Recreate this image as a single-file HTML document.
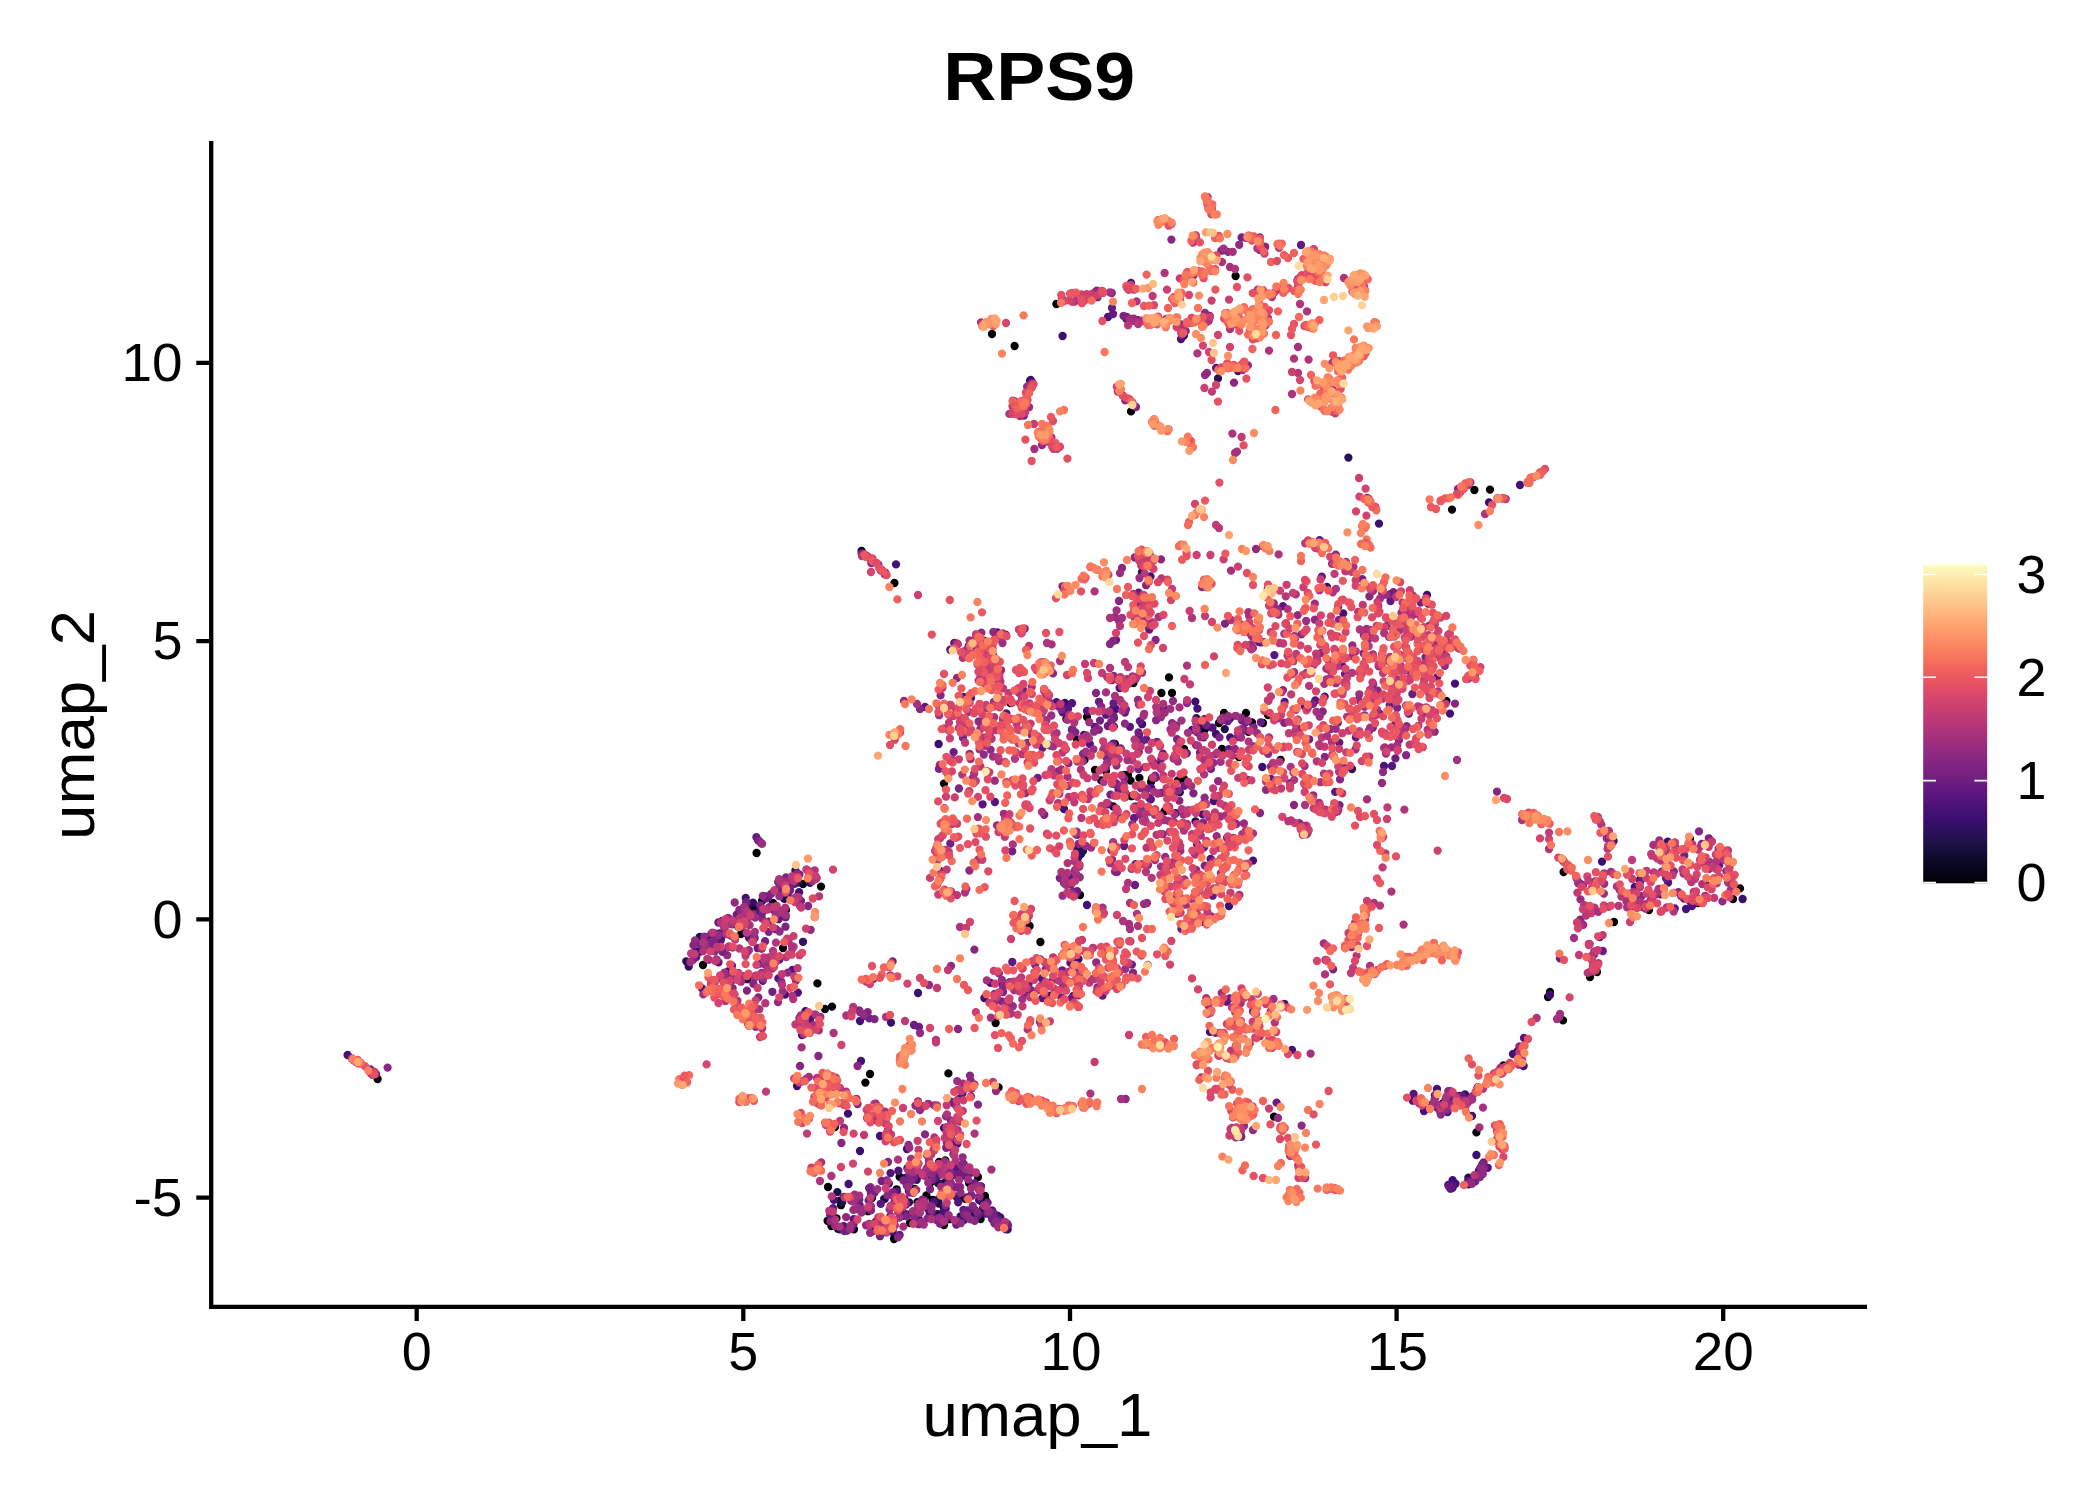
<!DOCTYPE html>
<html><head><meta charset="utf-8"><title>RPS9</title>
<style>
html,body{margin:0;padding:0;background:#fff;}
body{width:2100px;height:1500px;overflow:hidden;}
svg{display:block;}
text{font-family:"Liberation Sans",sans-serif;fill:#000;}
</style></head><body>
<svg width="2100" height="1500" viewBox="0 0 2100 1500">
<rect width="2100" height="1500" fill="#fff"/>
<defs><linearGradient id="mg" x1="0" y1="0" x2="0" y2="1"><stop offset="0.0000" stop-color="#fcfdbf"/><stop offset="0.0667" stop-color="#fddea0"/><stop offset="0.1333" stop-color="#febf84"/><stop offset="0.2000" stop-color="#fe9f6d"/><stop offset="0.2667" stop-color="#fa7f5e"/><stop offset="0.3333" stop-color="#f1605d"/><stop offset="0.4000" stop-color="#de4968"/><stop offset="0.4667" stop-color="#c43c75"/><stop offset="0.5333" stop-color="#a8327d"/><stop offset="0.6000" stop-color="#8c2981"/><stop offset="0.6667" stop-color="#721f81"/><stop offset="0.7333" stop-color="#57157e"/><stop offset="0.8000" stop-color="#3b0f70"/><stop offset="0.8667" stop-color="#20114b"/><stop offset="0.9333" stop-color="#0b0924"/><stop offset="1.0000" stop-color="#000004"/></linearGradient></defs>
<!-- title -->
<text x="1039.2" y="100" font-size="69" font-weight="bold" text-anchor="middle" textLength="192" lengthAdjust="spacingAndGlyphs">RPS9</text>
<!-- points -->
<g fill="none" stroke-linecap="round" stroke-width="8.3"><path stroke="#000004" d="M1204.3 730.4h0M871.1 1189.3h0M1563.0 1020.4h0M1518.0 1051.0h0M877.3 1222.5h0M1614.0 922.0h0M825.0 1009.0h0M887.0 1226.5h0M992.0 334.0h0M1172.0 693.0h0M998.6 1087.4h0M955.0 1174.0h0M1503.4 1065.4h0M902.4 1215.9h0M907.2 1214.6h0M1446.4 701.0h0M1690.0 839.0h0M995.6 1023.0h0M908.9 1190.9h0M949.7 1177.3h0M773.0 903.0h0M786.0 910.0h0M1151.0 782.0h0M868.0 1211.2h0M1733.0 899.0h0M1130.6 780.6h0M840.2 1228.0h0M1239.0 757.0h0M1010.4 703.0h0M1080.0 895.0h0M1469.4 1179.0h0M913.7 1179.1h0M870.0 1074.0h0M1040.4 942.0h0M914.6 1188.8h0M985.0 1196.0h0M944.0 1225.0h0M1442.0 1104.0h0M1248.4 731.8h0M1101.2 780.4h0M875.7 1221.9h0M1056.4 304.0h0M1178.1 780.3h0M756.6 853.0h0M1222.0 749.0h0M960.7 1197.9h0M1280.6 760.0h0M854.0 1229.3h0M835.0 1127.0h0M939.1 1161.9h0M894.4 583.0h0M1066.4 719.0h0M803.0 884.0h0M1185.0 752.0h0M945.3 1160.5h0M984.1 1209.6h0M783.0 948.0h0M978.0 1177.0h0M1581.0 884.4h0M1128.0 775.0h0M1246.0 713.0h0M1268.0 715.0h0M948.4 1073.4h0M965.0 1167.9h0M981.5 1201.2h0M1113.3 806.5h0M1449.0 1094.0h0M943.4 1223.7h0M1184.0 749.0h0M917.4 1202.1h0M1548.0 997.0h0M1133.4 683.0h0M831.4 1226.1h0M1452.0 509.6h0M1550.0 992.0h0M785.0 886.0h0M1095.0 770.0h0M1476.4 1132.4h0M1698.0 903.0h0M896.6 1189.3h0M1235.6 276.0h0M1563.6 872.0h0M1590.0 977.0h0M1131.3 796.2h0M1161.4 693.0h0M1173.2 793.5h0M1242.0 718.0h0M932.7 1199.8h0M701.0 944.0h0M703.0 965.0h0M944.0 783.6h0M965.4 1198.9h0M1640.0 880.0h0M1029.6 926.0h0M836.5 1218.3h0M1077.0 739.6h0M919.1 1175.0h0M974.0 1184.0h0M841.0 1205.2h0M832.0 1006.6h0M1106.0 771.0h0M1475.0 1176.0h0M753.0 908.0h0M828.0 1187.0h0M870.8 1197.1h0M1131.0 411.4h0M949.7 1219.2h0M872.0 1198.0h0M748.0 916.0h0M827.6 1220.8h0M762.0 901.0h0M931.1 1212.9h0M1169.0 677.4h0M741.0 934.0h0M1219.0 723.0h0M1490.0 489.6h0M926.4 1195.5h0M840.0 1200.7h0M1263.0 723.0h0M377.6 1079.0h0M1740.0 888.4h0M1124.0 775.0h0M910.0 1223.0h0M883.6 1224.1h0M969.0 1183.0h0M1164.6 811.2h0M949.3 1189.4h0M1274.0 1116.6h0M838.0 1228.7h0M817.4 983.4h0M1597.0 972.0h0M867.3 1209.4h0M1643.0 907.0h0M1114.9 744.0h0M1649.0 910.0h0M899.6 1176.8h0M894.5 1236.6h0M901.3 1203.1h0M910.4 1169.0h0M983.2 1208.1h0M985.6 1199.7h0M1014.6 346.0h0M1087.0 717.0h0M894.0 1239.0h0M1224.0 713.0h0M1139.4 777.9h0M1114.4 757.2h0M1474.4 490.0h0M1084.6 759.8h0M932.4 1179.1h0M980.6 1219.0h0M1252.0 722.4h0M821.0 886.6h0M865.4 1082.6h0M1151.9 778.6h0M930.3 1182.8h0M948.1 1187.3h0M1184.0 779.0h0"/><path stroke="#090720" d="M861.6 551.0h0"/><path stroke="#1e1149" d="M852.4 1228.3h0M888.8 1183.5h0M711.4 943.2h0M918.6 1218.7h0M837.4 1192.1h0M1468.4 1177.6h0M1195.5 821.4h0M747.1 951.9h0M1073.6 995.8h0M798.0 882.6h0M905.4 1177.8h0M895.0 1199.0h0M894.2 1220.8h0M699.7 936.9h0M884.8 1198.9h0M1030.1 380.7h0M747.3 979.2h0M1459.4 1096.0h0M773.3 906.3h0M870.8 1109.9h0M880.8 1226.1h0M986.2 673.7h0M1179.8 792.2h0M1142.0 572.2h0M943.7 1207.1h0M984.5 641.0h0M1175.7 813.2h0M937.4 1214.1h0M784.3 898.9h0M842.2 1202.2h0M738.2 926.6h0M870.9 1197.4h0M963.6 1164.0h0M943.8 1183.1h0M937.9 1183.1h0M973.0 1215.7h0M981.0 1213.7h0M1207.7 726.7h0M1224.8 729.1h0M1136.8 806.7h0M938.7 1199.0h0M938.7 1203.5h0M884.2 1198.8h0M1479.0 1171.3h0M1468.5 1184.3h0"/><path stroke="#271258" d="M1348.4 457.6h0M857.0 1200.9h0M1196.4 718.2h0M721.2 937.8h0M990.3 1214.7h0M1081.0 854.0h0M1183.9 335.5h0M732.7 947.4h0M765.2 896.5h0M1480.1 1175.3h0M964.2 1219.7h0M1218.0 378.4h0M928.6 1173.8h0M1204.4 719.2h0M1240.5 1132.0h0M1408.7 713.6h0M916.5 1172.8h0M909.0 1202.3h0M686.3 961.3h0M708.3 937.2h0M926.9 1207.9h0M1083.0 851.0h0M1435.5 1096.8h0M844.1 1196.8h0"/><path stroke="#311165" d="M1199.5 725.7h0M1352.0 769.0h0M688.7 966.5h0M951.7 1134.1h0M1007.7 1229.4h0M1078.0 858.0h0M810.0 882.8h0M910.4 1170.3h0M761.0 843.0h0M700.4 951.5h0M753.0 902.7h0M745.3 932.8h0M839.6 1229.3h0M1156.8 764.7h0M732.1 924.3h0M928.9 1165.7h0M803.0 941.8h0M953.5 1154.4h0M960.6 1216.3h0M1077.0 849.0h0M866.3 555.7h0M1049.7 995.7h0M1000.3 1217.4h0M795.4 870.5h0M805.5 1011.1h0M1465.0 1094.4h0M786.9 886.1h0M1113.0 708.8h0M1065.2 875.5h0"/><path stroke="#3b0f70" d="M1047.9 999.1h0M958.7 1099.2h0M1451.9 1093.7h0M1142.1 724.2h0M1262.3 767.0h0M721.9 921.2h0M907.4 1168.3h0M1195.3 701.6h0M990.3 677.4h0M1452.6 1180.2h0M1691.3 881.3h0M929.7 1213.0h0M892.7 1231.2h0M1427.0 595.0h0M1602.0 861.6h0M1707.0 864.4h0M797.0 1086.0h0M1667.7 841.6h0M979.1 1200.1h0M1742.6 899.0h0M1126.4 318.9h0M1229.0 906.0h0M1238.0 371.0h0M1216.0 734.0h0M1379.0 523.6h0M1078.5 959.0h0M1476.4 1155.0h0M891.0 1022.6h0M1613.6 841.0h0M923.7 1106.3h0M1150.5 576.5h0M1550.0 995.0h0M1636.0 899.0h0M1062.6 336.0h0M1084.0 735.0h0M1071.9 729.7h0M984.4 998.0h0M695.8 951.5h0M802.0 1035.0h0M813.0 1015.0h0M1479.0 1170.8h0M870.1 1208.6h0M1065.0 703.0h0M860.0 1151.0h0M1705.0 883.6h0M1229.9 718.6h0M1031.9 381.9h0M750.8 915.9h0M951.6 1193.1h0M1261.0 642.4h0M779.0 888.4h0M1327.0 587.0h0M1489.0 502.4h0M1030.7 379.9h0M918.0 993.0h0M938.6 744.0h0M916.7 1179.8h0M848.0 1113.6h0M918.4 1163.6h0"/><path stroke="#451077" d="M1005.9 1229.2h0M1324.7 696.6h0M1115.7 709.0h0M957.3 1143.7h0M728.0 971.5h0M1452.6 1187.8h0M990.6 982.9h0M1181.0 339.0h0M1213.8 801.0h0M745.7 897.9h0M1472.0 1116.0h0M971.0 697.9h0M717.0 961.2h0M758.1 840.3h0M1432.0 1104.5h0M1523.6 1066.0h0M1064.0 809.0h0M896.0 564.4h0M1192.1 729.9h0M1628.8 899.8h0M1255.0 1013.0h0M799.1 892.2h0M848.6 1184.0h0M1342.1 650.7h0M1434.9 1095.3h0M1292.0 1050.0h0M1455.5 1183.7h0M1230.2 737.5h0M1202.7 814.4h0M997.4 632.4h0M833.9 1199.9h0M1228.0 1024.0h0M1513.0 1054.0h0M1210.0 1031.9h0M785.1 994.6h0M859.6 1205.2h0M880.0 1136.0h0M944.0 1128.0h0M1424.0 1111.0h0M1076.8 834.7h0M779.0 910.9h0M1599.8 937.1h0M1006.0 635.0h0M952.7 1172.1h0M1437.0 1089.0h0M1686.0 909.0h0M1450.0 713.6h0M1448.3 1185.0h0M964.5 651.3h0M965.4 1086.9h0M945.7 1208.5h0M1634.8 886.9h0M1455.0 683.6h0M1253.0 860.6h0M956.0 1103.0h0M997.6 1215.6h0M1304.6 706.1h0M1343.2 613.4h0M1073.9 878.3h0M1009.3 982.7h0M907.0 1149.0h0M860.0 1021.0h0M1087.0 905.0h0M1520.0 485.0h0M872.2 1231.2h0M943.0 1212.2h0M715.5 941.0h0M956.5 1196.9h0M1131.0 283.0h0M1119.6 688.0h0M1197.4 708.6h0M1469.4 1180.8h0M1197.0 844.0h0M1106.1 756.6h0M347.6 1055.0h0M861.0 1061.0h0"/><path stroke="#4f127b" d="M1394.3 636.3h0M1070.9 960.6h0M1585.2 906.0h0M1690.2 901.6h0M1139.0 734.9h0M1342.1 665.6h0M1056.5 702.1h0M1151.2 788.0h0M1692.0 906.0h0M810.1 1020.8h0M1450.6 1188.7h0M1192.0 909.2h0M890.5 1173.1h0M963.7 696.9h0M1172.2 793.0h0M950.6 1144.4h0M993.3 1214.9h0M1215.2 818.1h0M912.1 1175.7h0M944.9 1210.8h0M1062.6 712.3h0M1203.7 737.3h0M1018.6 688.3h0M955.5 1167.0h0M981.0 1186.3h0M759.1 911.6h0M1251.7 749.7h0M703.9 939.1h0M1384.0 766.0h0M1007.0 1223.6h0M1394.6 725.1h0M995.2 1218.3h0M1447.5 1112.0h0M702.1 988.4h0M968.9 645.8h0M1042.9 662.5h0M1412.8 1100.7h0M719.3 933.5h0M950.3 649.7h0M1002.4 1225.8h0M1076.8 892.9h0M1387.7 660.6h0M797.9 992.6h0M1089.8 744.1h0M1108.0 317.0h0M1072.0 703.2h0M1206.0 759.6h0M785.4 915.4h0M958.2 1202.3h0M1223.5 718.5h0M851.0 1228.2h0M1284.4 1003.8h0M778.4 978.4h0M1668.1 882.5h0M792.5 969.9h0M1002.0 983.8h0M762.1 910.2h0M815.1 877.1h0M1150.8 799.4h0M1212.5 727.7h0M1479.0 1175.4h0M1128.1 683.5h0M793.3 878.8h0M746.9 903.2h0M933.6 1202.2h0M1139.0 322.6h0M936.3 1172.2h0M843.7 1226.1h0M1163.8 707.4h0M898.4 1170.7h0M1210.6 859.0h0M1487.7 1167.8h0M1108.4 804.3h0"/><path stroke="#59157e" d="M986.9 671.0h0M1392.0 766.0h0M1594.3 954.1h0M858.9 1205.2h0M929.6 1209.0h0M993.6 1213.5h0M1684.0 898.5h0M1524.0 1038.0h0M853.6 1219.1h0M1315.3 700.5h0M880.7 1203.8h0M1284.6 702.0h0M792.8 899.5h0M706.6 947.2h0M947.4 1133.9h0M718.5 962.3h0M1578.1 922.6h0M1674.8 908.4h0M1070.4 962.8h0M1042.4 998.1h0M1450.9 1091.5h0M955.2 1169.4h0M759.0 963.9h0M1452.2 1186.1h0M1731.3 883.9h0M1660.5 894.3h0M1335.2 791.9h0M994.9 802.0h0M1259.8 249.9h0M788.1 892.7h0M1447.1 644.8h0M1087.0 711.0h0M982.6 804.3h0M1665.4 874.4h0M1274.4 655.1h0M962.5 1093.3h0M879.7 1228.6h0M897.1 1191.4h0M1202.8 921.7h0M1382.2 592.5h0M1437.1 677.1h0M749.0 937.7h0M1226.7 1001.7h0M779.4 959.6h0M1468.2 1180.8h0M884.9 1120.2h0M963.3 1169.3h0M985.8 1213.6h0M1113.9 726.6h0M1068.0 709.0h0M1450.6 1186.7h0M1186.7 753.3h0M1106.1 714.7h0M951.3 1139.9h0M1137.9 320.1h0M1094.9 727.0h0M1442.8 1110.6h0M1452.3 1104.5h0M1129.9 726.8h0M925.0 707.0h0M1006.4 713.5h0M1041.7 978.3h0M1283.0 606.2h0M1176.9 896.0h0M1209.6 316.0h0M1283.6 747.1h0M1413.6 1094.0h0M720.7 940.5h0M1259.0 642.0h0M1651.0 900.0h0M936.8 1177.6h0M1379.7 713.9h0M992.1 1210.5h0M1227.1 837.8h0M856.6 1209.0h0M971.2 1195.2h0M954.3 643.0h0M769.7 961.2h0"/><path stroke="#621980" d="M963.4 1210.0h0M1118.5 789.5h0M1228.8 749.2h0M1149.1 797.9h0M945.8 1175.1h0M1042.4 747.7h0M1186.1 277.8h0M906.1 1204.5h0M1134.1 818.0h0M1149.2 629.5h0M1113.0 314.0h0M915.8 1165.7h0M1120.4 748.3h0M1260.8 722.3h0M992.6 1216.5h0M1146.3 739.4h0M833.1 1208.1h0M1064.9 883.5h0M872.7 1120.2h0M778.5 919.2h0M995.6 679.1h0M932.9 1216.7h0M946.2 1163.3h0M1321.8 576.7h0M1270.7 778.8h0M1138.6 592.7h0M1319.7 540.1h0M1145.3 767.1h0M1212.7 895.7h0M904.5 1198.8h0M1587.4 908.9h0M718.4 922.5h0M1139.9 721.1h0M762.7 980.8h0M1337.8 722.6h0M890.5 1215.9h0M1301.0 245.0h0M830.2 1214.9h0M939.9 870.8h0M765.4 898.6h0M1406.2 705.7h0M1134.7 806.7h0M696.2 957.0h0M1355.9 737.4h0M1124.9 712.5h0M1112.0 308.0h0M1452.2 1101.3h0M1071.4 877.0h0M1174.5 756.9h0M966.8 653.3h0M1216.1 367.9h0M847.0 1230.5h0M904.4 1213.5h0M966.7 1197.3h0M924.3 1200.5h0M775.9 929.2h0M1465.0 1099.6h0M1253.0 1011.4h0M1471.8 1183.7h0M1462.5 1096.0h0M729.5 919.1h0M956.0 1221.0h0M1012.3 962.0h0M974.7 1209.6h0M989.3 679.7h0M884.3 1221.0h0M1243.7 720.5h0M1243.2 729.6h0M899.6 1235.0h0M1103.0 292.5h0M763.6 909.7h0M756.4 837.2h0M1449.9 1187.7h0M935.7 1106.0h0M782.1 911.5h0M1114.8 784.1h0M998.5 1219.9h0M1448.8 1186.3h0M1168.9 865.3h0M1162.9 753.6h0M794.5 883.9h0M1124.1 846.0h0M939.2 1172.8h0M1339.3 742.6h0M785.6 917.2h0M1480.5 1167.8h0M1031.4 996.8h0M992.1 1219.1h0M1666.4 851.8h0M1043.9 665.0h0M1390.5 601.0h0M371.8 1071.2h0M1063.3 986.0h0M1474.9 676.0h0M1135.5 864.2h0M1719.2 865.2h0M1102.5 995.6h0M1113.6 703.2h0"/><path stroke="#6b1d81" d="M1732.5 885.9h0M1073.7 891.8h0M1028.7 983.6h0M864.2 1015.9h0M985.1 651.5h0M953.6 752.1h0M1009.5 1005.7h0M1240.7 1135.6h0M1602.8 951.0h0M736.7 914.6h0M914.0 1025.0h0M1267.8 589.3h0M1210.9 768.9h0M978.0 1214.8h0M958.1 1174.3h0M1113.1 743.6h0M970.7 1172.9h0M1040.2 959.4h0M757.7 948.2h0M714.4 948.3h0M974.7 1183.2h0M1459.5 1101.2h0M1408.3 670.3h0M1227.7 721.2h0M1097.5 297.2h0M1009.3 1003.8h0M1111.9 679.7h0M1245.0 730.6h0M1138.6 606.9h0M956.3 1224.5h0M1010.0 982.3h0M1369.0 730.8h0M1729.4 879.1h0M1433.6 1104.7h0M1390.8 594.0h0M714.6 933.5h0M999.4 1221.0h0M1005.6 1223.2h0M1398.8 731.7h0M745.7 912.8h0M1241.9 720.3h0M767.9 898.1h0M376.0 1074.0h0M732.0 965.7h0M1038.9 737.9h0M870.9 1193.2h0M780.6 890.7h0M1447.4 1099.0h0M790.8 881.1h0M1077.2 891.2h0M745.0 911.1h0M975.6 646.9h0M1204.0 847.4h0M1142.4 740.9h0M919.0 1027.0h0M1099.0 701.8h0M1480.9 1171.7h0M1138.7 752.1h0M1276.6 1102.6h0M946.5 1218.0h0M1560.0 958.4h0M738.5 973.2h0M963.9 1175.8h0M1229.9 998.3h0M1135.0 885.0h0M1062.2 970.3h0M1023.9 415.5h0M1037.7 777.9h0M1412.4 694.0h0M1395.4 758.4h0M1666.0 878.3h0M1181.4 928.8h0M1151.3 557.4h0M1176.2 725.7h0M1640.3 881.3h0M1114.0 718.1h0M967.5 1210.4h0"/><path stroke="#752181" d="M800.4 1016.9h0M1131.9 964.6h0M1098.8 729.7h0M754.7 938.0h0M913.8 1178.3h0M871.7 560.0h0M1237.4 737.1h0M1200.0 752.8h0M844.4 1231.1h0M1111.6 680.2h0M1193.3 241.2h0M790.2 890.2h0M987.6 1202.7h0M1423.6 1105.1h0M892.6 961.4h0M880.0 1236.2h0M801.0 900.9h0M1475.3 1181.3h0M1116.0 640.0h0M741.3 919.7h0M735.7 920.6h0M1153.6 559.8h0M1430.8 666.2h0M1024.7 993.2h0M954.1 1103.6h0M1440.4 1112.2h0M1023.3 690.0h0M1138.4 769.0h0M773.4 909.7h0M755.8 1026.7h0M1163.1 778.5h0M1701.8 844.0h0M1005.9 724.7h0M954.3 1175.3h0M1106.0 754.4h0M1008.0 1225.4h0M1277.9 289.0h0M1100.0 720.6h0M1398.9 740.1h0M992.1 643.5h0M886.8 1180.4h0M1042.5 704.5h0M1241.6 237.5h0M1105.8 767.8h0M1367.1 497.9h0M884.4 1221.2h0M1061.3 997.4h0M765.1 941.2h0M950.3 843.5h0M1334.7 812.2h0M1197.5 732.6h0M1125.9 709.5h0M768.9 921.6h0M1113.5 716.0h0M1339.5 805.1h0M869.2 1018.3h0M1338.1 606.9h0M772.4 991.8h0"/><path stroke="#7e2482" d="M1259.8 237.4h0M946.8 1142.7h0M1342.5 691.4h0M799.4 874.5h0M906.8 1216.4h0M1107.0 757.8h0M991.1 659.0h0M1025.4 793.1h0M1372.8 727.7h0M1290.1 783.2h0M786.0 877.5h0M1058.3 771.5h0M714.6 940.0h0M1072.5 729.3h0M1428.3 603.9h0M1390.6 594.6h0M1480.0 1177.1h0M971.9 1195.9h0M770.0 963.1h0M758.3 997.4h0M1075.4 732.4h0M370.7 1073.1h0M892.9 1192.2h0M1161.3 792.9h0M771.2 893.8h0M813.1 872.8h0M1127.5 682.1h0M1335.0 650.5h0M1177.1 739.2h0M861.6 553.5h0M1193.4 793.3h0M995.2 682.2h0M994.4 1223.3h0M1482.8 1174.1h0M979.0 641.6h0M1091.1 296.4h0M946.2 1147.8h0M1035.2 964.9h0M1157.0 741.8h0M731.0 935.5h0M1228.1 716.8h0M1696.5 897.3h0M932.4 1179.9h0M1078.4 995.4h0M1140.0 814.8h0M955.8 1187.2h0M874.5 1019.1h0M1137.6 604.6h0M1219.5 737.4h0M1695.9 900.1h0M1062.5 586.3h0"/><path stroke="#882781" d="M1265.0 247.0h0M910.8 1181.4h0M1437.2 1106.5h0M1325.5 960.0h0M998.0 638.1h0M1207.9 827.6h0M1390.6 658.5h0M922.2 1199.7h0M1402.6 669.4h0M800.0 1066.0h0M909.6 1192.5h0M914.3 1216.9h0M1161.0 559.4h0M1137.1 612.6h0M1580.2 921.6h0M1661.6 871.7h0M977.3 1211.9h0M1188.9 810.5h0M1434.6 731.7h0M1332.6 389.8h0M1152.8 761.5h0M1097.2 728.8h0M863.6 554.0h0M1203.1 822.6h0M1172.1 723.2h0M1369.4 596.4h0M1363.9 635.3h0M1213.0 861.4h0M1445.4 1099.8h0M945.5 1205.1h0M1678.4 892.1h0M1096.8 290.6h0M761.9 918.2h0M807.4 870.1h0M940.6 695.4h0M759.4 841.1h0M1145.8 794.7h0M870.9 1206.1h0M1155.6 640.0h0M818.4 1056.0h0M1124.2 778.6h0M1111.8 293.0h0M1322.7 711.5h0M909.3 1174.9h0M1097.4 987.5h0M1179.3 800.7h0M1148.8 579.1h0M1116.2 783.1h0M1373.2 684.3h0M1332.1 563.7h0M900.2 1200.5h0M1699.0 831.4h0M1101.2 706.7h0M939.9 879.3h0M1083.0 754.0h0M781.3 981.8h0M1283.0 690.1h0M1377.8 690.7h0M732.6 988.3h0M974.7 1220.9h0M1673.8 871.4h0M1053.0 673.4h0M711.4 941.8h0M740.5 925.8h0M1420.2 671.2h0M987.7 1212.8h0M1657.9 891.6h0M1004.5 1222.3h0M1263.8 642.2h0M796.0 980.5h0M1580.2 919.7h0M731.4 981.0h0M1277.1 609.3h0M925.0 1134.4h0M1451.2 1103.9h0M1135.0 618.6h0M1136.0 407.0h0M1409.8 630.5h0M920.0 709.0h0M1052.3 980.9h0M1716.2 854.7h0M1143.4 807.5h0M748.5 917.5h0M888.0 1162.0h0M1482.6 1169.1h0M1155.1 775.6h0M928.9 1164.6h0M1146.3 625.2h0M1284.3 722.9h0M810.7 877.2h0M1146.1 585.2h0M1125.2 400.4h0M1113.0 641.0h0M1111.2 721.6h0M752.9 913.8h0M808.1 906.0h0"/><path stroke="#912b81" d="M1333.8 756.5h0M761.7 973.0h0M969.6 753.8h0M1116.5 765.5h0M940.9 853.0h0M1152.8 762.3h0M352.9 1059.8h0M1299.3 823.1h0M1177.2 913.7h0M875.4 1224.9h0M1246.1 237.9h0M992.4 654.5h0M1401.5 612.7h0M1141.7 595.5h0M1256.0 549.0h0M1436.3 635.7h0M1278.1 609.6h0M1202.0 587.0h0M762.8 895.9h0M1031.5 383.3h0M718.6 935.0h0M1115.0 871.6h0M1482.1 1173.6h0M1301.6 1125.6h0M1244.0 1126.0h0M846.1 1217.1h0M1204.6 797.6h0M774.9 890.4h0M990.6 749.8h0M951.0 966.0h0M787.7 972.6h0M962.6 1157.3h0M778.1 882.0h0M904.0 701.0h0M931.6 1210.4h0M983.8 754.6h0M1063.8 953.1h0M1301.5 634.3h0M1131.0 319.0h0M946.0 1116.4h0M990.9 684.9h0M753.8 937.8h0M1253.0 1130.0h0M931.7 1174.4h0M1082.9 761.3h0M920.0 1033.0h0M1027.4 742.8h0M908.5 1144.9h0M1386.8 626.0h0M1065.4 880.4h0M1196.1 722.9h0M1124.9 723.6h0M778.0 1002.1h0M870.1 1232.8h0M1234.9 749.0h0M727.2 955.2h0M1019.8 413.5h0M1234.2 1021.8h0M1683.0 849.5h0M994.5 993.9h0M810.6 929.8h0M1218.1 781.1h0M1722.4 901.4h0M1241.0 717.7h0M1082.8 738.1h0M1196.0 745.1h0M915.4 1105.6h0M1195.8 235.4h0M964.2 1168.0h0M980.4 729.0h0M1346.4 566.7h0M1519.4 1046.4h0M754.9 977.6h0M950.0 705.0h0M1317.0 548.4h0M1297.7 615.1h0M1706.7 864.9h0M771.1 907.1h0M996.0 1091.0h0M1173.0 701.0h0M1228.1 251.9h0M1266.0 789.8h0M887.5 1195.2h0M960.5 1192.8h0M1134.7 557.5h0M1058.2 706.2h0M1606.7 838.3h0M1578.7 882.5h0M1178.4 790.5h0M1252.9 648.0h0M1082.8 300.3h0M1447.8 1107.0h0M960.8 1223.2h0M1429.1 709.7h0M866.1 1225.3h0M1330.4 729.2h0M978.6 721.5h0M856.4 1098.8h0M1314.9 619.7h0M1383.0 772.0h0M1444.8 665.9h0M1594.3 951.4h0"/><path stroke="#9b2e7f" d="M1209.3 817.5h0M703.6 946.5h0M1419.3 1103.4h0M1017.1 918.8h0M1139.5 578.0h0M944.9 849.8h0M1456.1 1096.0h0M1051.3 715.5h0M1352.6 656.0h0M869.2 1223.8h0M850.0 1229.1h0M786.3 881.5h0M886.7 1232.3h0M1002.5 643.0h0M993.1 655.3h0M1239.5 647.3h0M1660.7 860.4h0M1241.5 729.1h0M1446.9 641.8h0M748.9 950.2h0M1246.3 764.3h0M993.9 701.9h0M1683.6 873.6h0M1038.5 432.6h0M779.4 896.2h0M806.2 1079.0h0M723.8 926.6h0M1132.5 676.5h0M1067.7 786.0h0M1205.0 375.0h0M801.2 1015.3h0M1353.5 650.9h0M939.8 764.9h0M861.5 1212.5h0M1243.9 823.4h0M951.2 1131.5h0M1397.6 750.6h0M932.3 1166.2h0M1726.2 871.1h0M1442.6 1108.5h0M728.2 946.9h0M1076.7 831.7h0M1458.7 1102.0h0M1233.5 838.0h0M925.8 1205.2h0M994.8 780.7h0M1468.1 676.5h0M725.8 992.2h0M870.5 1187.1h0M695.0 940.5h0M1693.7 899.7h0M997.0 825.4h0M928.2 1103.8h0M1112.0 859.5h0M909.3 1147.7h0M880.4 1227.2h0M1719.8 848.0h0M989.9 677.6h0M918.0 1101.3h0M968.1 1179.6h0M1201.1 320.1h0M1211.4 916.5h0M1688.7 844.9h0M980.5 668.7h0M1235.6 715.8h0M1502.1 1073.3h0M972.5 778.2h0M1091.1 847.6h0M1003.9 813.8h0M924.4 1175.8h0M748.6 1012.3h0M1335.7 728.9h0M873.6 1193.0h0M1015.8 826.5h0M918.8 1203.5h0M1373.0 590.9h0M1170.5 729.4h0M812.4 881.1h0M944.8 1161.5h0M1500.0 1145.0h0M1165.2 856.9h0M1180.4 850.8h0M952.8 715.8h0M1451.8 1092.9h0M1314.8 603.6h0M1100.3 988.7h0M707.0 944.4h0M1027.1 386.7h0M1191.4 322.3h0M961.1 1164.9h0M762.1 843.8h0M1407.3 631.2h0M1359.3 694.3h0M740.5 919.0h0M872.5 562.0h0"/><path stroke="#a5317e" d="M1325.0 809.7h0M1464.4 485.1h0M1230.0 267.0h0M1191.3 786.1h0M966.1 726.5h0M1112.2 783.9h0M754.8 932.0h0M1451.7 1092.6h0M1459.0 1105.3h0M763.4 978.3h0M1031.7 686.9h0M1467.8 485.1h0M963.0 1083.7h0M1182.2 333.7h0M821.2 1162.4h0M737.4 1000.8h0M903.3 1226.6h0M990.9 1017.7h0M1403.0 614.2h0M1685.6 872.0h0M1716.3 869.0h0M1366.6 629.0h0M1319.5 590.2h0M1005.1 818.4h0M1034.1 1101.1h0M1166.1 319.0h0M1470.9 1183.3h0M939.1 715.2h0M1655.9 894.5h0M1236.6 1023.8h0M1220.2 915.9h0M1304.6 766.0h0M1633.1 897.7h0M1188.0 732.8h0M880.8 570.5h0M1519.0 1064.7h0M923.8 1224.6h0M1353.4 566.9h0M1293.5 772.6h0"/><path stroke="#6b1d81" d="M966.9 1217.5h0M1124.9 797.3h0M1071.8 998.0h0M1085.6 295.4h0M1107.8 726.0h0M1389.7 705.1h0M1344.9 674.1h0"/><path stroke="#752181" d="M1206.3 725.0h0M1015.0 987.3h0M1196.5 730.7h0M1065.2 972.8h0M950.8 1101.7h0M1138.5 732.5h0M1309.2 739.3h0M853.5 1224.2h0M1684.3 855.5h0M1342.2 765.9h0M1245.5 722.6h0M1161.3 758.9h0M868.6 1200.4h0M1012.2 851.3h0M1437.0 1107.5h0M869.1 1188.3h0M1075.6 967.9h0M1477.9 1087.1h0M1362.3 579.2h0M762.3 912.8h0M1203.4 324.5h0M1483.6 1162.5h0M1425.5 657.1h0M1174.4 786.8h0M992.0 1216.1h0M711.4 933.6h0M859.3 1199.4h0M906.8 1185.6h0M874.4 1192.7h0M873.3 978.9h0M1223.9 367.9h0M1115.2 751.1h0M993.4 1213.5h0M745.1 917.3h0M1110.4 794.6h0M880.3 1232.8h0M1029.0 392.6h0M1155.5 777.8h0M1443.8 654.1h0M1363.7 653.3h0M1120.5 817.7h0M1448.3 1091.2h0M1126.7 317.0h0M1420.6 602.6h0M987.3 675.4h0M1160.3 814.8h0M1134.6 795.0h0M1222.6 250.4h0M881.6 1181.0h0M722.5 951.9h0M1146.6 605.3h0M1184.4 785.8h0M700.1 944.4h0M1595.2 881.5h0M1071.1 884.6h0M746.1 902.4h0M1590.1 957.8h0M1393.4 592.1h0M1337.7 811.2h0"/><path stroke="#7e2482" d="M1473.9 669.9h0M986.2 726.0h0M693.3 959.6h0M753.4 983.9h0M1221.3 250.6h0M1480.5 1168.3h0M1061.5 709.7h0M963.0 737.9h0M971.0 1096.5h0M1259.7 1036.2h0M971.5 1088.5h0M1563.2 861.2h0M1161.1 709.1h0M785.5 926.7h0M1519.6 1060.6h0M939.8 1223.5h0M859.2 1010.4h0M1162.7 834.2h0M1338.9 619.9h0M1482.3 1164.1h0M1626.1 895.3h0M713.1 943.1h0M1062.9 998.7h0M857.5 1104.0h0M958.9 788.5h0M918.5 1224.2h0M768.7 931.8h0M1410.8 636.6h0M744.9 908.6h0M1031.0 990.1h0M938.9 768.9h0M1001.6 1001.3h0M1247.9 780.0h0M1333.1 969.3h0M802.1 1018.8h0M1253.6 727.3h0M1204.7 865.6h0M1059.8 878.1h0M760.2 905.3h0M867.7 1012.1h0M1241.3 1136.9h0M782.2 913.2h0M1044.2 814.8h0M1225.0 623.6h0M903.4 1180.5h0M930.1 1189.2h0M354.3 1060.3h0M1117.0 872.0h0M1193.4 275.4h0M1235.7 1137.4h0M1708.8 838.3h0M1478.2 1174.9h0M1313.2 703.9h0M1245.5 631.2h0M915.8 1166.3h0M1024.7 628.6h0M878.4 564.8h0M964.1 1214.3h0M1325.4 810.3h0M708.6 959.7h0M792.4 948.6h0M1003.1 992.0h0M1397.2 707.8h0M851.3 1014.3h0M1215.6 1032.8h0M1048.3 744.6h0M1498.1 1132.4h0M786.2 891.0h0M746.9 990.6h0M1123.5 315.9h0M1278.4 780.5h0M950.3 1186.9h0M937.3 1220.6h0M913.3 1192.8h0M1040.0 1022.0h0"/><path stroke="#882781" d="M1294.0 805.0h0M779.6 884.9h0M716.4 959.5h0M1144.5 819.6h0M1340.0 779.4h0M857.6 1066.0h0M960.1 1186.9h0M1297.9 279.2h0M1435.8 1094.5h0M998.9 973.3h0M1260.0 813.0h0M387.6 1067.6h0M1187.0 703.0h0M948.7 1189.8h0M1429.1 693.0h0M970.0 1075.6h0M1113.6 675.9h0M963.0 1164.2h0M1641.4 896.2h0M901.9 1203.9h0M1089.4 296.8h0M995.3 682.5h0M1078.7 843.8h0M1351.5 947.1h0M1452.4 642.8h0M1123.6 683.6h0M1215.7 754.3h0M739.3 910.0h0M1149.7 811.5h0M1420.5 707.3h0M1119.0 601.0h0M898.0 1237.3h0M884.8 574.4h0M927.5 1218.4h0M1141.0 788.4h0M1406.7 726.2h0M1420.7 1103.6h0M1171.4 239.6h0M1110.0 644.0h0M976.1 1173.3h0M1473.8 675.1h0M950.0 1171.1h0M871.0 1210.4h0M950.9 1120.5h0M961.7 1089.0h0M1061.9 298.1h0M1147.0 788.6h0M693.4 945.1h0M1299.7 729.0h0M728.3 976.7h0M978.0 1104.6h0M894.4 1202.4h0M1096.0 693.0h0M1270.8 766.6h0M841.4 1143.0h0M372.4 1073.7h0M683.8 1083.0h0M1031.7 735.1h0M1045.6 969.5h0M754.5 1009.9h0M1335.8 554.7h0M875.7 1103.7h0M1028.9 710.8h0M1458.0 489.0h0M1156.1 720.2h0M804.4 1031.8h0M799.4 1018.6h0M970.7 1080.7h0M1265.1 246.8h0M997.3 1225.1h0M1122.0 568.0h0M1093.8 295.8h0M844.0 1128.0h0M974.4 949.6h0M1064.0 882.9h0M972.7 1205.9h0M1068.4 763.2h0M1259.7 1035.6h0M1133.0 972.8h0M796.7 873.9h0M1018.4 414.4h0M1497.0 791.6h0M958.0 1029.0h0M893.5 1196.3h0M1406.1 755.2h0M1120.8 787.2h0M983.8 682.9h0M370.6 1069.5h0M926.9 1168.9h0M992.5 648.7h0M1483.9 1168.2h0M1324.8 756.9h0M1319.6 638.2h0M784.8 892.9h0M1234.0 382.6h0M1461.2 1100.1h0M1519.4 1052.7h0M1455.0 703.6h0M1222.6 720.2h0M1717.7 869.6h0M1003.0 987.1h0M1199.3 889.6h0M1490.2 1081.0h0"/><path stroke="#912b81" d="M1196.1 731.4h0M1478.0 1176.2h0M1213.4 762.9h0M981.4 632.7h0M1207.0 373.0h0M1138.0 700.0h0M993.3 632.0h0M1395.3 728.2h0M979.5 1186.1h0M937.7 1169.6h0M979.7 1196.3h0M1369.2 638.4h0M1044.2 691.1h0M713.4 989.1h0M884.5 1112.6h0M1239.2 244.8h0M999.3 677.9h0M956.6 643.3h0M1002.7 633.5h0M1074.8 870.4h0M920.0 1110.0h0M1106.8 763.2h0M1079.7 877.2h0M1433.9 643.0h0M764.7 964.5h0M950.9 1183.2h0M1204.7 801.8h0M1358.4 699.9h0M1382.0 783.0h0M1416.8 1099.8h0M983.6 652.1h0M772.1 968.5h0M969.4 870.5h0M1208.4 318.8h0M734.7 902.5h0M1386.0 753.5h0M1002.7 1225.2h0M1125.6 1099.0h0M886.8 1225.6h0M1352.4 645.5h0M356.4 1062.1h0M931.6 1206.4h0M993.4 664.5h0M1667.6 856.4h0M1446.7 1109.8h0M1429.3 625.6h0M871.3 563.0h0M1003.5 1225.9h0M1268.1 753.9h0M1297.8 719.6h0M860.3 1012.4h0M1185.7 331.0h0M1079.4 866.5h0M1147.0 903.0h0M929.0 985.0h0M1561.4 858.6h0M996.1 1221.4h0M1096.2 962.5h0M1465.0 1100.3h0M1181.0 324.5h0M1278.0 1118.0h0M985.0 1205.1h0M1597.1 964.3h0M1126.9 287.3h0M871.2 1114.9h0M947.7 1184.7h0M714.8 951.3h0M743.8 976.2h0M1229.4 1058.6h0M1196.1 869.9h0M830.7 1221.2h0M1583.0 885.2h0M1148.0 865.0h0M1074.7 895.1h0M1082.9 297.2h0M1356.3 928.5h0M704.3 936.6h0M1203.0 261.0h0M1222.6 717.6h0M957.0 678.0h0M851.0 1200.6h0M1305.2 1178.1h0M1470.3 1182.7h0M1019.7 979.4h0M1478.7 1175.3h0M863.8 1014.8h0M728.1 918.0h0M1094.9 292.3h0M1273.8 603.5h0M1071.5 892.3h0M957.4 1221.3h0M1449.1 1091.9h0M1247.9 365.4h0M1378.7 666.3h0M1290.2 1155.9h0M1253.8 746.3h0M769.2 907.2h0M1468.5 678.5h0M1388.9 621.3h0M1589.7 944.1h0M1111.4 850.2h0M1205.0 313.0h0M1321.2 653.0h0M1111.2 953.2h0M1042.0 445.0h0M1094.0 731.7h0M1171.3 790.6h0M1328.3 660.3h0M1619.9 890.1h0M779.6 931.5h0M934.4 1105.4h0M1630.9 907.1h0M1135.5 679.0h0M970.4 1219.4h0M910.7 1168.7h0M967.2 1215.3h0M1270.7 1011.4h0M1236.4 824.0h0M1440.8 1114.5h0M884.4 1232.2h0M1481.4 1169.1h0"/><path stroke="#9b2e7f" d="M1046.2 729.8h0M1062.6 895.7h0M1278.7 718.4h0M1329.4 670.1h0M1119.0 621.0h0M1659.3 840.5h0M1027.7 915.7h0M1150.7 319.0h0M1519.3 1057.0h0M1434.4 1102.5h0M1125.2 969.1h0M1001.9 979.9h0M952.6 1148.7h0M856.6 1197.0h0M1278.3 614.6h0M1112.5 755.3h0M1200.8 737.4h0M750.4 1007.3h0M1257.1 733.2h0M854.6 1194.7h0M1319.4 808.4h0M1085.9 846.0h0M1053.3 746.3h0M802.5 1081.2h0M1131.6 868.9h0M1102.6 907.7h0M1220.9 873.2h0M1115.0 617.0h0M1268.4 700.9h0M1642.6 906.2h0M724.4 972.7h0M976.5 1186.4h0M1364.6 715.3h0M1313.2 795.3h0M1467.1 1101.4h0M1012.8 1006.2h0M970.6 759.0h0M1132.3 320.8h0M1355.5 749.3h0M928.2 1182.5h0M1205.3 256.2h0M1078.1 295.7h0M1051.4 437.5h0M1303.4 829.9h0M1389.0 636.8h0M1681.1 896.1h0M1272.3 605.1h0M1154.8 814.7h0M992.0 672.2h0M958.9 728.0h0M853.4 1209.9h0M835.2 1225.9h0M988.8 729.4h0M1250.8 648.3h0M916.2 1189.9h0M1133.9 318.7h0M751.5 1025.0h0M1225.4 853.5h0M939.6 1217.8h0M905.6 1203.0h0M914.2 1172.5h0M948.7 1215.1h0M1251.1 644.4h0M1519.3 1052.1h0M1001.1 670.3h0M1335.9 683.2h0M887.9 1130.1h0M1209.8 828.6h0M1604.2 883.8h0M1391.6 747.4h0M1183.5 814.6h0M1472.4 1096.2h0M1434.6 1099.1h0M972.2 654.1h0M878.8 1231.6h0M1297.3 752.0h0M755.1 917.6h0M974.4 1084.4h0M881.5 1221.1h0M1203.1 324.5h0M1029.1 407.2h0M746.0 909.4h0M1143.2 617.4h0M1089.3 722.2h0M1249.4 1111.5h0M1306.2 621.0h0M1220.4 816.5h0M782.7 991.5h0M1004.8 1004.5h0M743.5 918.9h0M1164.6 712.9h0M927.0 1155.2h0M994.6 1002.1h0M965.6 1169.3h0M730.0 935.1h0M1228.4 716.2h0M898.1 1212.0h0M1160.9 717.2h0M1144.0 904.0h0M1580.5 899.4h0M1208.4 1005.6h0M968.5 711.8h0M1583.2 924.9h0M863.2 1209.3h0M1016.9 1098.0h0M1120.0 573.0h0M1129.5 399.5h0M957.2 1081.1h0M1386.0 594.8h0M858.0 1207.9h0M766.2 963.0h0M1027.1 399.2h0M1306.1 673.1h0M1718.6 848.6h0M1093.4 749.3h0M870.5 1113.5h0M1382.2 653.9h0M1319.7 716.5h0M1146.7 614.5h0M907.8 1186.9h0M1582.6 924.3h0M1591.7 890.8h0M1603.9 893.6h0M1251.7 636.0h0M979.5 749.2h0M1061.5 769.5h0M1132.3 824.3h0M1139.4 811.8h0M1216.7 836.2h0M1578.3 883.3h0M989.1 1211.6h0M921.1 1221.8h0M1132.5 402.8h0"/><path stroke="#a5317e" d="M985.5 745.8h0M885.4 572.7h0M1727.3 853.0h0M1064.5 982.6h0M1066.7 884.5h0M1138.8 704.6h0M744.1 906.9h0M1085.8 751.6h0M850.6 1225.5h0M1141.6 320.7h0M1232.0 1127.9h0M1411.0 617.1h0M732.2 923.9h0M1277.1 612.4h0M721.7 976.3h0M1377.1 709.6h0M956.8 1106.8h0M1027.1 920.0h0M1419.6 667.5h0M741.0 981.7h0M923.7 1172.4h0M1196.1 897.7h0M1422.4 1100.4h0M744.9 911.9h0M984.5 718.3h0M1223.6 248.6h0M1241.1 737.6h0M820.4 1016.9h0M1208.8 320.7h0M1467.9 1102.6h0M1173.6 861.9h0M959.1 1179.9h0M1501.9 498.6h0M813.5 1025.2h0M690.5 962.0h0M761.8 948.8h0M1350.5 933.3h0M1399.7 654.7h0M1711.9 841.5h0M1294.6 636.0h0M1179.5 707.4h0M1483.0 1107.6h0M1086.4 735.4h0M737.2 1004.9h0M1306.4 834.3h0M1313.7 664.7h0M1380.1 598.5h0M926.6 1168.7h0M991.4 1169.6h0M1164.6 820.2h0M1295.7 594.4h0M911.1 1159.0h0M1129.0 924.0h0M1271.9 297.0h0M988.6 665.6h0M1298.9 1165.2h0M1310.6 1053.6h0M1177.8 761.5h0M859.3 1195.6h0M917.0 704.0h0M1273.5 999.0h0M1078.7 990.6h0M780.6 882.7h0M1184.5 879.4h0M818.8 1030.4h0M1107.9 762.9h0M1210.2 207.0h0M917.8 1206.0h0M1051.6 644.4h0M853.5 1201.7h0M936.5 885.3h0M1020.0 416.0h0M703.3 994.4h0M959.8 1121.5h0M877.5 1189.1h0M754.9 976.1h0M729.2 923.6h0M1142.1 672.7h0M912.8 1211.2h0M1207.9 1013.9h0M785.8 883.9h0M969.6 640.5h0M1232.7 251.8h0M1231.0 570.6h0M902.3 1207.7h0M1022.3 999.3h0M986.7 708.2h0M803.7 1034.3h0M889.6 1209.4h0M1397.3 745.2h0M749.6 925.1h0M1323.8 943.4h0M1104.4 752.0h0M1221.7 992.9h0M1500.4 1067.9h0M1237.0 451.6h0M1129.9 319.4h0M808.9 1076.9h0M1415.5 613.8h0M928.9 1160.8h0M1067.5 776.8h0M720.9 978.5h0M1220.6 761.8h0M949.6 705.9h0M1023.5 793.1h0M986.8 980.4h0M1248.0 720.6h0"/><path stroke="#ae347b" d="M952.2 759.4h0M1326.4 679.4h0M1206.2 998.1h0M1608.9 831.0h0M1069.5 952.2h0M716.5 960.2h0M1158.6 617.0h0M1044.2 705.2h0M1293.3 661.2h0M1173.5 758.5h0M820.0 1181.0h0M1320.4 782.2h0M1237.9 733.1h0M1549.0 849.0h0M1306.7 255.7h0M1580.0 925.8h0M839.7 1226.6h0M775.9 942.6h0M1716.1 861.7h0M1576.5 878.3h0M1150.8 320.6h0M1012.8 844.4h0M1200.8 835.6h0M1047.0 643.0h0M869.8 1205.4h0M867.0 1118.0h0M1027.7 1029.4h0M962.3 774.6h0M1373.6 692.4h0M1064.8 879.4h0M814.7 917.0h0M1071.4 947.8h0M1004.9 1222.0h0M1437.8 1104.9h0M973.7 643.6h0M891.2 1219.5h0M936.0 1040.0h0M1728.1 862.6h0M1042.0 812.0h0M1207.6 197.1h0M1197.4 353.4h0M919.9 1212.9h0M1068.5 949.7h0M1107.2 677.1h0M771.3 959.0h0M809.1 875.2h0M1171.3 791.6h0M1325.0 974.4h0M712.4 987.3h0M933.6 1149.4h0M817.1 1077.9h0M1012.2 825.5h0M1020.2 408.7h0M1109.2 711.5h0M1242.3 834.1h0M779.8 912.4h0M1080.8 769.6h0M1217.0 1089.6h0M1702.2 884.1h0M882.5 1225.2h0M1470.4 482.4h0M1727.0 855.7h0M1370.0 966.0h0M965.0 892.6h0M950.1 1135.1h0M795.7 897.1h0M1403.6 924.6h0M1061.4 872.0h0M1391.4 891.6h0M1041.6 714.0h0M1009.4 413.9h0M1522.0 820.0h0M752.5 1009.3h0M1404.4 809.6h0M1329.9 678.2h0M1404.1 732.9h0M993.6 666.6h0M814.7 870.3h0M1002.9 718.9h0M944.0 1221.6h0M1294.1 779.9h0M1187.0 665.6h0M1118.1 680.3h0M762.2 1028.2h0M1115.0 696.0h0M1091.0 296.7h0M1024.0 695.5h0M785.3 907.7h0M1407.4 634.7h0M978.8 1189.8h0M1050.8 670.7h0M846.3 1015.5h0M788.5 941.0h0M1727.9 850.4h0M1014.2 990.2h0M1437.9 691.4h0M1371.7 636.5h0M1359.8 629.5h0M1128.3 683.7h0M736.2 922.1h0M1204.1 774.4h0M1660.4 888.8h0M703.2 951.1h0M1616.9 886.4h0M898.0 1159.6h0"/><path stroke="#b83779" d="M1312.9 252.6h0M819.1 896.3h0M782.1 984.8h0M1245.9 830.5h0M1141.5 864.2h0M1000.4 681.6h0M1132.2 760.3h0M1121.2 749.8h0M1424.2 679.7h0M1023.0 414.1h0M1181.8 809.1h0M1241.4 624.6h0M1651.8 900.0h0M1077.4 992.1h0M1279.6 761.8h0M1075.4 880.6h0M1139.0 610.4h0M1135.9 741.0h0M1146.0 872.0h0M1639.9 901.9h0M1592.8 967.2h0M734.9 974.2h0M1156.6 834.8h0M1244.7 868.0h0M1334.6 809.3h0M962.8 657.9h0M1217.1 752.6h0M1022.5 968.4h0M1585.8 909.1h0M1022.2 754.2h0M1419.4 638.1h0M995.3 667.9h0M1179.1 744.0h0M1232.1 755.7h0M1057.2 448.8h0M1175.9 727.7h0M1133.4 593.9h0M1382.9 661.1h0M1409.3 624.0h0M1249.9 330.7h0M876.8 1117.9h0M1661.0 860.4h0M1219.0 528.0h0M747.0 911.4h0M1407.5 658.5h0M962.7 1110.9h0M1081.4 818.0h0M798.4 897.2h0M1316.8 761.3h0M742.2 925.7h0M815.6 879.0h0M1402.6 602.6h0M1671.0 853.8h0M1238.4 1136.4h0M876.8 1111.7h0M996.8 997.3h0M1523.6 1046.4h0M1653.8 872.5h0M1281.4 692.2h0M1674.6 842.8h0M831.7 1196.4h0M1004.8 715.8h0M917.1 1166.6h0M985.8 658.2h0M1326.3 810.1h0M1698.1 849.5h0M1172.3 318.8h0M1594.5 907.7h0M980.5 676.2h0M374.3 1071.8h0M991.6 738.8h0M1224.7 805.7h0M1080.8 796.6h0M793.2 999.0h0M802.5 1023.3h0M1116.8 968.2h0M1355.8 651.3h0M1196.1 728.8h0M1634.6 893.0h0M1418.4 725.8h0M1128.1 325.2h0M1390.0 656.9h0M1298.0 373.0h0M1101.7 909.1h0M853.2 1006.9h0M1012.8 400.7h0M1273.0 762.9h0M961.6 1091.1h0M969.3 1167.3h0M1635.1 903.5h0M1607.6 848.9h0M1148.6 749.7h0M1474.4 1175.1h0M982.9 659.2h0M1279.0 247.9h0M1068.7 797.0h0"/><path stroke="#c23b75" d="M1321.7 737.5h0M1111.9 954.2h0M1130.6 769.2h0M1152.7 777.6h0M844.7 1197.4h0M1048.2 441.9h0M932.8 1166.0h0M1192.9 242.5h0M999.5 707.3h0M776.7 905.9h0M917.2 1169.9h0M1375.1 638.4h0M946.5 1127.2h0M1120.0 941.4h0M1296.2 654.0h0M1022.5 1006.3h0M691.1 953.5h0M1423.0 649.0h0M1230.9 1050.7h0M948.7 851.7h0M1212.0 208.3h0M1647.8 903.3h0M1313.7 808.3h0M918.5 1149.8h0M1023.1 729.9h0M1390.5 680.2h0M957.3 1090.2h0M1351.0 973.0h0M892.9 1227.4h0M1012.5 406.2h0M1672.5 875.2h0M1324.6 746.7h0M946.8 1202.8h0M1060.6 703.9h0M1221.4 877.7h0M1054.0 988.7h0M1608.1 846.0h0M1445.6 703.9h0M1336.3 811.7h0M716.8 994.7h0M1377.6 601.9h0M1121.9 682.9h0M1390.8 663.0h0M773.0 956.4h0M775.8 962.1h0M1213.1 788.5h0M885.7 1120.8h0M1029.0 646.0h0M1196.2 237.4h0M1353.0 968.0h0M1025.3 912.4h0M1714.2 897.9h0M1362.8 605.0h0M1190.0 684.4h0M995.1 730.2h0M1197.3 907.1h0M1288.9 733.2h0M1337.7 636.5h0M1218.9 795.8h0M891.0 1134.5h0M1154.6 765.7h0M1341.9 703.7h0M922.2 1174.5h0M1147.0 623.4h0M747.6 1015.9h0M1176.1 756.8h0M1213.9 888.3h0M1280.7 1127.0h0M1054.3 775.5h0M1196.7 823.8h0M959.7 1089.4h0M840.0 1121.0h0M1231.9 1007.4h0M1253.0 748.6h0M1353.6 277.9h0M1365.1 919.8h0M1085.9 951.5h0M1004.8 836.9h0M1004.3 735.9h0M1456.8 1098.8h0M1017.7 407.2h0M1033.1 755.2h0M1039.7 672.5h0M1440.8 1108.2h0M997.3 681.2h0M1142.7 821.0h0M1017.6 413.8h0M1171.8 732.7h0M1723.3 859.1h0M1089.4 982.7h0M795.4 1024.5h0M1054.4 734.2h0M1695.0 879.0h0M1366.2 658.4h0M745.6 955.8h0M1700.0 859.9h0M781.9 974.2h0M1130.9 679.7h0M1281.1 788.5h0M1166.4 788.2h0M1178.4 326.7h0M1205.0 616.0h0M872.4 1117.3h0M950.9 1125.4h0M735.1 939.6h0M1313.3 249.5h0M1167.2 793.6h0M1158.2 1039.9h0M944.8 1137.9h0M1370.7 589.5h0M1121.5 775.2h0M1163.4 775.7h0"/><path stroke="#cc3f71" d="M1339.1 748.9h0M995.0 983.7h0M1242.4 1105.3h0M1320.5 579.5h0M1108.2 986.8h0M1497.6 498.1h0M998.5 832.1h0M900.1 732.5h0M1229.0 299.6h0M1179.0 842.4h0M1293.0 593.0h0M1355.0 922.8h0M913.3 1223.8h0M1211.5 214.2h0M1437.6 850.6h0M971.3 1087.8h0M1167.0 289.6h0M1203.1 749.9h0M1090.3 791.5h0M1359.4 731.2h0M938.3 705.6h0M1666.4 846.9h0M1277.6 287.4h0M1096.7 991.4h0M1210.0 317.0h0M888.0 1139.1h0M752.1 1013.8h0M1084.1 295.3h0M1022.0 400.8h0M985.3 677.3h0M1026.7 988.1h0M839.9 1087.8h0M1256.6 338.2h0M1238.3 1110.1h0M1588.8 945.0h0M1596.3 888.5h0M976.1 634.2h0M1071.0 970.9h0M1421.5 718.8h0M1496.7 1073.0h0M1115.4 867.5h0M1508.5 1065.4h0M1316.0 653.6h0M1259.0 630.2h0M1151.8 743.0h0M1193.7 875.6h0M1347.1 677.5h0M1264.4 710.9h0M1398.0 645.7h0M739.4 1011.6h0M1245.7 1108.9h0M1091.3 294.1h0M1591.2 913.2h0M1346.3 752.4h0M1495.7 1140.6h0M1045.5 775.1h0M1274.1 720.3h0M885.7 1135.7h0M1184.4 679.0h0M794.8 902.0h0M763.8 957.3h0M1646.4 893.6h0M1134.0 289.7h0M1306.6 825.6h0M1429.7 666.9h0M1383.1 836.7h0M951.0 891.3h0M1016.5 412.7h0M1319.1 547.1h0M1403.5 728.7h0M956.8 1100.5h0M760.0 1037.0h0M1218.9 880.6h0M1378.1 613.4h0M798.1 1080.6h0M1632.3 879.0h0M1413.8 743.7h0M1209.6 205.2h0M1199.7 906.5h0M1078.2 296.1h0M885.2 1123.4h0M806.0 928.6h0M1406.8 651.7h0M797.7 877.0h0M785.3 885.7h0M1012.6 780.2h0M958.9 759.3h0M1533.2 818.0h0M985.4 662.3h0M739.8 1007.9h0M1281.0 715.3h0M1255.2 1023.1h0M1176.6 327.1h0M1004.9 761.9h0M955.9 708.8h0M1210.4 555.0h0M983.0 675.9h0M945.9 1196.8h0M1076.4 994.4h0M1588.8 943.8h0M1045.1 984.4h0M1371.0 699.5h0M1248.6 312.8h0M1294.7 823.0h0M1008.9 983.8h0M1148.6 602.0h0M1350.9 943.6h0M1229.4 1135.5h0M1286.0 623.2h0M731.2 996.8h0M1049.3 967.6h0M1151.3 567.0h0M711.1 984.4h0M1137.5 753.8h0M1286.6 584.8h0M1351.5 571.9h0M825.9 1125.0h0M963.4 1100.4h0M1210.4 1012.8h0M917.6 1140.8h0M1342.1 364.6h0M1230.4 892.8h0M794.2 976.5h0M1577.0 922.5h0M1027.6 762.5h0M1192.3 320.0h0M1212.0 744.7h0M1593.8 967.2h0M728.3 985.0h0M1308.1 540.5h0M1134.2 610.2h0"/><path stroke="#d5446d" d="M1538.0 818.6h0M1044.6 962.2h0M1081.4 294.5h0M970.0 922.0h0M1241.5 988.4h0M1630.3 871.6h0M1316.0 691.3h0M985.4 739.3h0M1210.6 1097.4h0M1360.9 281.1h0M358.1 1063.3h0M1005.4 850.5h0M1163.1 322.2h0M1150.1 321.3h0M1189.0 295.0h0M1168.3 896.1h0M1383.6 681.4h0M1227.9 836.5h0M1086.4 1105.0h0M1207.8 829.0h0M1300.0 380.0h0M1302.7 675.2h0M1282.8 747.3h0M1069.8 982.0h0M1282.3 816.8h0M1017.3 729.6h0M1119.2 972.4h0M1306.5 710.3h0M1237.3 1034.2h0M1368.6 907.2h0M1603.8 905.4h0M1204.2 906.1h0M1218.0 335.0h0M821.3 1091.2h0M1371.6 717.6h0M853.0 1163.6h0M1267.5 1001.5h0M1017.7 1014.7h0M1384.0 747.9h0M1395.6 715.2h0M1176.6 302.1h0M1416.3 1101.0h0M868.0 1171.6h0M867.7 1118.2h0M1595.8 951.5h0M1132.0 756.1h0M1101.3 291.4h0M1587.3 876.3h0M706.6 1064.4h0M1036.2 744.6h0M1650.9 903.2h0M920.0 978.0h0M1315.1 547.8h0M1505.2 1067.0h0M1214.0 656.4h0M986.8 717.6h0M1228.5 841.9h0M1071.8 293.1h0M1034.9 742.4h0M1329.9 393.8h0M1006.0 323.0h0M1016.5 1098.6h0M1307.9 648.8h0M1117.8 811.2h0M1384.4 627.1h0M1330.9 633.6h0M793.7 946.7h0M1408.3 610.9h0M930.0 1028.0h0M857.4 1219.5h0M1518.9 1062.9h0M1408.6 652.9h0M1224.0 1035.3h0M1236.2 324.5h0M804.9 1022.4h0M1108.3 967.7h0M1446.2 615.9h0M871.0 572.0h0M1200.1 757.2h0M1591.7 888.6h0M1312.7 798.7h0M1216.0 385.0h0M1006.7 1009.8h0M870.0 984.0h0M1226.9 1024.0h0M720.9 947.0h0M1046.9 833.7h0M1696.7 874.5h0M1509.7 1063.0h0M752.7 1013.9h0M1438.4 630.9h0M1101.5 292.9h0M1067.0 675.0h0M1330.2 556.8h0M1323.4 725.2h0M1361.2 292.5h0M737.4 980.1h0M1717.8 869.2h0M1179.5 879.4h0M1203.5 272.7h0M1163.0 648.0h0M1230.0 347.0h0M1319.2 254.5h0M1320.3 644.7h0M1236.6 813.8h0M773.1 927.4h0M1218.3 1055.5h0M1549.0 839.0h0M1224.0 785.6h0"/><path stroke="#a5317e" d="M1442.4 1105.1h0M1034.4 449.0h0M799.8 1017.5h0M977.9 817.1h0M1170.3 708.9h0M1560.0 1014.0h0M1370.1 727.6h0M785.7 915.2h0M1322.2 702.0h0M1235.0 453.0h0M1085.0 298.3h0M1126.8 679.2h0M1709.3 868.8h0M911.4 1171.5h0M1110.2 745.8h0M1259.6 243.1h0M1022.3 413.8h0M1074.8 719.1h0M971.0 1188.5h0M1372.9 654.3h0M1123.7 784.1h0M1653.4 844.9h0M941.0 1186.7h0M1645.7 908.7h0M1166.3 871.2h0M1075.5 833.9h0M1046.5 720.2h0M1316.5 711.8h0M1424.8 712.5h0M1157.7 793.5h0M1249.1 615.9h0M1152.7 622.5h0M998.4 1227.3h0M1187.0 824.0h0M1200.5 769.3h0M899.5 1217.6h0M876.0 1117.5h0M1106.0 692.4h0M1479.4 1127.4h0M1462.8 1102.0h0M714.6 982.2h0M1074.6 301.5h0M1121.0 1099.0h0M1092.2 979.1h0M1049.3 702.0h0M1559.0 1017.0h0M1181.5 720.6h0M1433.6 1103.7h0M1574.0 938.0h0M1298.7 752.3h0M1242.7 370.1h0M1477.1 1088.7h0M1557.0 1019.0h0M1168.5 820.8h0M993.0 756.6h0M1294.1 672.2h0M1239.4 894.9h0M1161.0 866.6h0M1174.4 814.2h0M1225.8 815.3h0M949.5 1185.9h0M1011.3 737.1h0M978.6 680.6h0M1675.3 847.2h0M1298.0 347.0h0M1209.6 767.0h0M1626.5 901.5h0M799.3 1082.5h0M1122.0 618.0h0M1346.0 562.0h0M1367.0 799.4h0M1307.6 833.1h0M1050.6 745.7h0M1220.7 719.5h0M835.7 1084.8h0M1155.0 860.0h0M876.2 1113.0h0M1116.6 610.4h0M1103.4 749.7h0M1472.2 1099.5h0M1304.5 825.8h0M1598.2 911.8h0M1069.1 714.9h0M724.8 927.9h0M1434.5 1102.4h0M1110.0 863.0h0M818.6 1094.7h0M1601.3 824.6h0M1144.2 713.8h0M1730.8 889.7h0M1645.1 904.6h0M1248.4 612.2h0M1137.0 322.0h0M1185.7 904.7h0M775.8 915.5h0M1143.6 715.7h0M1319.2 802.9h0M1240.7 1003.1h0M1162.2 819.0h0M1431.7 731.3h0M1066.0 884.8h0M957.6 1130.1h0M1398.0 679.3h0M1627.1 907.4h0M885.0 1111.7h0M1457.0 760.0h0M1130.0 929.0h0M1506.0 1068.7h0M1061.3 302.2h0M1109.9 292.3h0M818.6 1165.6h0M1384.9 747.5h0M1076.1 874.0h0M940.8 1170.2h0M884.2 1219.9h0M1127.4 760.1h0M801.6 1047.4h0"/><path stroke="#ae347b" d="M879.8 1109.3h0M1149.4 808.9h0M894.9 1225.5h0M908.0 1169.6h0M1536.6 1018.0h0M978.1 859.7h0M846.1 1091.6h0M888.0 1182.1h0M1018.9 692.9h0M1254.9 1024.1h0M1260.3 296.1h0M1321.5 273.9h0M1364.5 706.9h0M1130.0 903.0h0M1291.8 674.4h0M1120.0 700.0h0M1164.6 273.0h0M792.0 946.4h0M1141.2 565.6h0M1169.0 806.7h0M1154.0 791.8h0M1156.2 707.0h0M1137.0 914.0h0M1405.8 613.4h0M960.0 927.0h0M1058.1 803.2h0M931.4 1219.2h0M954.3 1220.1h0M885.4 1230.3h0M1287.7 609.1h0M1292.0 394.0h0M1400.6 665.7h0M994.2 717.1h0M1059.4 793.7h0M1446.3 1096.6h0M983.9 1205.8h0M1088.9 738.5h0M872.7 1117.5h0M955.6 1160.9h0M1596.2 965.1h0M1405.0 729.1h0M1485.0 514.0h0M1231.0 620.0h0M1266.1 781.5h0M1331.9 411.6h0M1659.0 890.7h0M1197.9 745.6h0M1041.6 1100.6h0M1608.7 906.9h0M947.0 1114.4h0M1294.0 358.6h0M1128.0 883.0h0M1305.0 805.0h0M1195.0 854.5h0M1017.1 404.9h0M803.0 1015.0h0M874.4 1104.0h0M833.6 1033.0h0M1331.9 742.3h0M815.4 1014.5h0M1307.0 311.4h0M1163.2 703.9h0M1094.6 591.4h0M1076.5 868.1h0M1094.4 296.3h0M966.9 649.5h0M1056.6 733.1h0M942.5 1174.7h0M1344.0 278.0h0M1673.7 911.5h0M1347.1 716.8h0M981.0 322.4h0M1700.8 846.1h0M1204.3 760.2h0M720.7 922.4h0M1308.6 359.6h0M1173.8 821.7h0M714.0 991.6h0M974.1 773.7h0M1067.4 719.8h0M1028.4 728.8h0M1120.4 677.1h0M1136.6 301.4h0M952.5 894.5h0M1591.6 955.9h0M1457.9 647.8h0M1039.1 713.4h0M1728.1 882.5h0M728.6 992.8h0M886.0 1017.0h0M1222.0 262.0h0M1117.8 391.5h0M934.4 1137.4h0M1253.0 833.4h0M1232.4 433.6h0M835.4 1219.7h0M1040.9 985.9h0M1074.7 861.4h0M1248.6 741.6h0M1112.8 985.4h0M1028.7 710.3h0M1370.2 630.0h0M1269.0 350.6h0M1183.9 830.6h0M969.8 1170.0h0M1022.0 697.8h0M985.6 1205.9h0M1378.3 606.0h0M1121.9 686.7h0M948.1 774.6h0M1249.2 632.6h0M937.3 860.2h0M703.0 942.5h0M1195.8 240.7h0M1324.3 683.8h0M1458.8 494.1h0M1018.6 743.4h0M1065.0 987.8h0M749.3 1018.4h0M1192.0 618.0h0M1060.0 661.0h0M1658.7 888.9h0M806.4 1119.1h0M1339.1 771.7h0M1018.4 408.7h0M1399.7 630.3h0M1284.3 633.7h0M1438.5 654.6h0M1230.0 329.0h0M1412.7 595.4h0M1373.4 701.7h0M831.4 1176.0h0M965.4 723.9h0M800.0 905.9h0M1349.5 708.6h0M1705.3 895.8h0M1709.2 861.6h0M726.2 934.0h0M743.2 1098.8h0M765.3 922.3h0M1090.4 1093.6h0M1611.0 871.8h0M1384.1 633.0h0M1113.1 842.2h0M1486.9 1083.3h0M1335.9 588.9h0M1180.9 825.2h0M1269.0 737.4h0M792.4 995.6h0M1235.0 269.0h0M1332.7 812.9h0M1169.8 831.8h0M1103.7 782.0h0M1290.7 766.9h0M1138.0 926.0h0M831.0 1128.8h0M759.6 1022.6h0M1110.0 618.0h0M1074.3 722.6h0M1037.5 990.4h0M1053.5 962.7h0M1336.1 651.7h0M1045.4 697.1h0M1278.6 554.4h0M1633.5 892.0h0M748.8 1023.0h0M1421.1 617.9h0M1192.1 899.4h0M779.1 879.2h0M924.3 1202.0h0M1010.7 1013.5h0M1110.0 668.0h0M1067.6 863.1h0M1319.1 744.5h0M974.6 1133.6h0M1593.4 971.4h0M1332.8 592.3h0M1263.8 1001.4h0M966.4 889.1h0M1081.9 738.1h0M1664.0 889.1h0M1374.0 903.0h0M1327.1 736.1h0M1707.2 863.0h0M759.3 1009.2h0M1244.5 631.4h0M1326.3 668.6h0M1122.2 710.6h0M1183.3 329.0h0M1067.4 872.9h0M999.1 761.0h0M1123.0 921.0h0M1077.5 761.5h0M1300.0 304.0h0"/><path stroke="#b83779" d="M1160.8 768.9h0M1302.7 834.8h0M1145.6 813.3h0M1285.8 596.3h0M1053.5 448.9h0M1522.2 1060.0h0M1592.8 962.6h0M844.7 1102.9h0M918.3 1204.8h0M998.7 636.9h0M1396.6 731.0h0M1415.6 611.7h0M1210.1 756.1h0M1161.5 578.4h0M1053.5 447.1h0M1053.1 957.3h0M1195.6 320.3h0M707.3 958.9h0M1140.7 746.3h0M793.6 881.0h0M1142.3 607.0h0M1298.2 1165.2h0M862.0 556.1h0M1145.8 822.0h0M1249.8 1043.4h0M882.0 569.9h0M786.2 957.1h0M980.4 766.5h0M1341.7 563.2h0M747.0 921.0h0M1587.7 972.9h0M1600.0 821.8h0M1279.4 643.0h0M1288.3 821.2h0M1103.0 806.6h0M1368.7 646.0h0M1132.2 680.3h0M1356.6 955.6h0M1087.9 799.0h0M1143.7 564.3h0M1723.8 859.8h0M817.2 1078.4h0M1188.1 781.8h0M1117.1 752.0h0M1108.2 821.4h0M1206.7 322.1h0M765.3 1003.2h0M1274.8 1022.6h0M1362.4 587.1h0M931.1 1154.5h0M1621.4 896.6h0M1332.1 363.0h0M1095.3 777.1h0M1094.3 842.8h0M951.4 715.4h0M1320.0 746.1h0M1316.8 656.9h0M1380.0 905.6h0M1070.2 894.5h0M1598.4 963.2h0M1218.4 847.8h0M1666.8 907.5h0M1062.4 752.5h0M1201.4 1077.5h0M1702.8 862.8h0M1342.2 793.3h0M1395.2 681.7h0M1691.4 882.1h0M1093.0 947.8h0M1417.9 706.4h0M1324.0 773.7h0M1141.3 614.9h0M1120.0 626.0h0M1434.8 624.5h0M1337.3 666.3h0M1111.5 754.0h0M725.3 1001.1h0M1309.1 685.9h0M1050.8 1108.2h0M1144.7 573.4h0M1381.7 838.2h0M1255.3 1037.4h0M1140.8 621.0h0M1320.3 549.1h0M1146.6 847.7h0M1408.2 680.7h0M1104.8 746.4h0M1410.4 677.1h0M944.5 808.1h0M1136.9 676.6h0M1428.3 635.1h0M844.3 1105.1h0M1130.4 941.4h0M1014.9 758.8h0M1483.0 1088.7h0M816.7 878.2h0M957.0 895.1h0M1068.1 972.1h0M976.1 638.1h0M1295.8 709.8h0M1204.8 735.9h0M1047.1 728.2h0M944.1 728.5h0M1083.5 578.5h0M946.5 1132.1h0M763.5 958.8h0M1120.9 682.7h0M1604.2 873.3h0M1398.6 736.6h0M767.5 909.5h0M1070.3 736.6h0M993.9 727.3h0M1251.4 649.3h0M1242.7 1027.3h0M1134.5 739.6h0M975.7 1172.3h0M829.3 1210.8h0M1352.1 672.9h0M1121.8 702.9h0M993.8 728.2h0M1618.6 905.8h0M1257.3 248.4h0M1448.3 634.7h0M1305.2 543.3h0M1338.4 809.6h0M1173.4 725.6h0M1118.7 759.0h0M1586.0 915.6h0M1520.0 1053.7h0M739.9 918.0h0M834.9 1087.7h0M1590.1 971.8h0M1716.7 883.3h0M1295.4 730.8h0M954.2 1155.4h0M1205.6 1056.9h0M1151.7 877.9h0M1094.2 979.1h0M1150.9 558.9h0M1368.6 498.7h0M768.6 957.4h0M983.7 737.3h0M1378.8 664.5h0M1013.3 407.3h0M1382.5 698.7h0M1427.6 729.7h0M1584.1 905.1h0M1413.6 664.5h0M1307.9 707.7h0M739.4 948.5h0M1091.2 794.5h0M1122.8 395.5h0M1078.4 1007.0h0M1332.4 754.7h0M1693.7 892.0h0M1187.0 813.4h0M712.4 932.7h0M1138.2 324.0h0M1369.3 756.6h0M1156.7 712.5h0M1358.2 611.8h0M890.5 975.3h0M773.0 950.9h0M1102.4 710.9h0M995.3 639.7h0M767.4 970.2h0M1465.4 1106.6h0M1426.2 707.3h0M922.2 1207.8h0M872.1 1115.5h0M1640.0 887.3h0M810.1 872.2h0M1288.6 657.2h0M1345.4 571.2h0M1262.8 546.2h0M1059.0 980.7h0M998.2 756.9h0M1291.0 820.4h0M944.2 1167.9h0"/><path stroke="#c23b75" d="M1335.2 413.3h0M1096.1 907.5h0M1207.4 911.7h0M1192.1 834.2h0M1018.3 413.3h0M807.0 1133.6h0M946.7 1105.3h0M1215.0 812.5h0M1173.9 904.4h0M936.0 1042.4h0M1112.1 747.1h0M715.1 960.9h0M1249.0 749.7h0M1519.8 1052.4h0M1181.7 334.2h0M1372.5 682.4h0M953.7 1127.1h0M1223.2 847.2h0M1206.3 804.2h0M827.4 1088.9h0M975.8 781.0h0M1206.4 814.1h0M1187.1 700.1h0M950.5 1137.2h0M1345.9 567.6h0M808.8 1118.9h0M905.0 1021.0h0M1392.9 693.4h0M1237.7 316.7h0M1184.4 752.7h0M1030.6 723.6h0M1164.4 891.2h0M1334.7 803.5h0M1104.0 767.4h0M1126.0 889.0h0M1291.2 694.4h0M1461.6 1103.7h0M1596.9 966.8h0M1602.7 935.1h0M1167.1 320.7h0M1015.9 409.1h0M960.7 717.6h0M1146.7 559.7h0M1085.0 664.0h0M990.1 669.8h0M1505.8 499.0h0M1212.0 391.6h0M1252.6 1106.4h0M1657.1 858.3h0M1125.0 662.0h0M1171.7 773.9h0M1330.3 391.8h0M1459.0 648.2h0M1267.9 700.3h0M1250.2 730.9h0M1317.6 660.8h0M1145.5 603.7h0M1025.1 412.4h0M1333.7 680.2h0M1422.8 747.2h0M1077.0 946.9h0M937.0 988.0h0M1019.3 991.3h0M1211.3 1010.7h0M827.6 1088.6h0M1106.8 953.4h0M717.1 947.0h0M1651.2 853.9h0M1158.3 822.8h0M936.9 1105.3h0M792.0 876.3h0M1698.2 901.7h0M864.0 1135.0h0M989.3 772.3h0M870.2 1224.9h0M1424.6 663.4h0M1646.5 870.8h0M1216.0 525.0h0M1191.2 319.9h0M797.6 968.2h0M832.8 1211.7h0M1135.0 809.2h0M1453.8 1107.4h0M683.8 1082.1h0M1268.0 318.0h0M946.7 869.6h0M766.0 1091.6h0M1182.9 822.8h0M1004.6 1010.2h0M976.0 636.5h0M1376.0 715.1h0M1067.5 892.4h0M1176.5 909.8h0M1588.5 880.7h0M1128.0 667.0h0M773.8 907.4h0M870.5 1197.9h0M1629.4 893.7h0M1348.7 730.7h0M763.3 909.1h0M747.0 932.6h0M1083.0 298.1h0M1333.2 563.8h0M1019.7 703.1h0M1288.7 721.7h0M1235.2 1012.4h0M1387.4 807.4h0M1079.5 974.6h0M1119.5 944.5h0M953.2 1121.4h0M1160.1 746.3h0M1446.3 656.2h0M1106.9 802.8h0M1372.8 695.1h0M1114.6 795.7h0M1144.1 562.4h0M773.3 954.9h0M1692.2 844.3h0M1270.9 696.4h0M1373.8 696.0h0M1577.4 892.7h0M1010.2 699.0h0M949.0 722.6h0M1008.6 693.2h0M1017.9 783.6h0M1137.3 796.8h0M1597.9 817.0h0M1102.0 673.0h0M801.2 907.5h0M1443.2 953.7h0M1072.3 301.7h0M1682.5 869.5h0M1125.3 792.6h0M1200.2 830.3h0M724.5 925.5h0M1409.1 636.0h0M1015.8 410.8h0M732.6 920.7h0M878.2 1217.5h0M1708.7 846.8h0M936.6 857.7h0M1072.4 882.7h0M1344.1 682.5h0M1230.4 322.9h0M1074.3 802.3h0M993.0 1082.0h0M1350.2 570.5h0M1029.5 703.4h0M1712.2 867.1h0M1597.7 950.1h0M1300.8 829.2h0M1030.1 997.3h0M948.0 970.0h0M1242.2 994.5h0M1317.2 270.4h0M1370.1 689.7h0M758.3 1026.1h0M1549.0 832.6h0M1493.9 1073.5h0M866.0 981.6h0M1632.0 860.0h0M1090.8 755.7h0M1083.8 298.2h0M1334.5 573.9h0M1383.0 673.1h0M1226.4 880.0h0M1652.0 855.7h0M1016.6 723.8h0M1013.3 981.6h0M1283.2 643.5h0M868.0 556.8h0M1196.5 320.9h0M372.4 1074.9h0M1265.6 325.3h0M1385.4 853.3h0M1182.9 332.1h0M1152.6 296.0h0M1241.6 437.0h0M1014.5 402.6h0M1173.4 865.5h0M980.6 1190.3h0M969.3 791.2h0M1206.4 840.9h0M1318.7 635.9h0M1294.4 1156.1h0M1187.7 810.4h0M1172.0 589.0h0M1156.9 320.0h0M1410.2 619.8h0M1101.5 805.9h0M1465.7 1101.3h0M1094.6 1062.0h0M1396.3 597.0h0M1051.4 769.1h0M989.8 735.6h0M1409.6 744.6h0M965.1 742.7h0M1021.2 977.4h0M1082.0 940.0h0M1376.8 625.8h0M1230.5 1129.0h0M1339.6 660.1h0M774.2 890.5h0M752.9 942.0h0M729.1 946.4h0M1241.4 1129.1h0M1405.0 607.5h0M1394.6 700.2h0M869.2 557.8h0M1147.0 561.7h0M1209.6 757.6h0M1003.1 688.4h0M1257.6 289.6h0M352.0 1058.5h0M1329.5 380.4h0M890.0 1223.4h0M1180.3 846.3h0M1274.7 292.1h0M1252.7 628.1h0M942.5 687.8h0M994.9 685.0h0M1272.1 786.6h0M1579.0 955.0h0M694.7 954.0h0M957.9 644.3h0M1382.6 867.4h0"/><path stroke="#cc3f71" d="M1359.0 478.0h0M1177.3 883.3h0M957.1 823.7h0M944.5 889.6h0M841.1 1103.2h0M986.0 705.0h0M1646.1 877.9h0M1381.9 665.7h0M1238.2 777.9h0M1660.7 911.7h0M756.2 975.5h0M1610.2 835.7h0M1201.9 805.1h0M1008.0 698.3h0M1282.0 709.5h0M1180.5 295.8h0M885.8 1188.2h0M1063.0 593.1h0M1105.7 990.8h0M1298.6 1167.5h0M1012.9 412.4h0M1346.4 683.8h0M955.4 1130.9h0M1287.5 655.6h0M1206.5 751.6h0M850.6 1196.9h0M1496.9 1130.5h0M891.6 1220.4h0M1233.0 1117.4h0M903.0 1108.0h0M949.9 738.4h0M1011.0 939.0h0M1017.5 981.2h0M1124.4 705.3h0M959.9 722.1h0M1473.3 660.0h0M1270.8 632.2h0M1080.8 761.5h0M1049.1 695.3h0M1179.8 278.4h0M966.3 721.4h0M989.7 667.6h0M1269.0 1108.6h0M1235.3 1136.4h0M1045.7 670.1h0M1211.6 300.6h0M819.6 1104.6h0M1040.7 662.5h0M1251.6 999.1h0M1595.7 970.4h0M868.2 1115.3h0M806.3 869.5h0M993.8 970.9h0M1359.4 672.3h0M1223.0 868.1h0M1269.0 1039.8h0M1074.6 857.2h0M975.9 1012.2h0M882.9 1121.6h0M826.2 1077.2h0M1086.7 294.2h0M976.7 644.3h0M988.4 668.5h0M1455.3 959.7h0M1189.6 611.0h0M1150.0 691.0h0M1451.0 643.2h0M1656.5 873.9h0M992.7 673.4h0M957.4 1116.8h0M1128.5 963.0h0M823.9 1077.0h0M954.8 797.4h0M895.5 1197.2h0M1252.7 1021.7h0M1223.6 559.4h0M868.2 1207.2h0M1295.0 639.1h0M955.7 837.7h0M938.3 894.5h0M750.3 915.2h0M1259.8 314.9h0M941.7 1193.4h0M1311.2 401.6h0M1034.3 979.8h0M1009.4 814.2h0M1015.3 401.5h0M1195.4 720.6h0M929.2 1154.1h0M1674.9 842.4h0M1435.5 712.3h0M1357.9 934.0h0M950.8 1165.1h0M1021.4 633.4h0M1043.8 710.5h0M1047.0 668.6h0M1040.2 711.4h0M1097.8 295.2h0M999.3 675.7h0M918.0 595.0h0M982.3 859.8h0M1094.0 663.0h0M1492.6 1081.6h0M1303.4 587.2h0M1126.4 753.7h0M1266.0 1004.1h0M1610.4 846.3h0M1139.3 560.8h0M1372.3 587.4h0M1246.8 758.8h0M1030.0 1022.3h0M1269.1 605.7h0M1237.9 730.5h0M1319.3 623.4h0M734.6 994.5h0M1160.4 833.8h0M1659.4 848.2h0M1144.8 795.2h0M1082.3 980.6h0M815.6 875.9h0M1342.9 599.7h0M946.0 796.6h0M985.9 667.7h0M1296.1 735.8h0M811.4 1167.7h0M1295.2 724.3h0M989.4 1002.7h0M955.1 1150.0h0M936.1 1143.6h0M1292.0 372.0h0M1204.4 388.0h0M1160.4 875.0h0M852.3 1011.1h0M1041.3 1025.0h0M1196.6 555.0h0M1073.0 967.8h0M1440.9 659.2h0M890.6 1205.7h0M938.2 839.3h0M1342.3 733.2h0M1409.9 680.0h0M1099.5 770.5h0M930.0 877.9h0M1116.9 985.1h0M835.9 1077.7h0M1129.0 1035.0h0M1236.5 1127.3h0M1716.0 854.4h0M1103.1 741.3h0M1406.4 629.3h0M1083.6 775.0h0M1353.4 711.1h0M1711.2 842.3h0M787.1 938.6h0M1423.1 627.9h0M808.1 1026.4h0M1220.2 803.4h0M1145.0 864.8h0M866.7 1109.9h0M1613.6 874.2h0M938.5 1164.0h0M1112.7 952.1h0M1264.4 253.5h0M1098.3 976.3h0M934.1 1150.5h0M1298.6 1177.8h0M1197.2 914.2h0M1024.3 912.7h0M1244.2 997.7h0M1122.1 678.8h0M1342.5 694.3h0M1630.0 922.0h0M828.0 1083.6h0M940.3 838.0h0M799.9 1082.1h0M1049.9 1021.3h0M360.4 1063.5h0M1280.0 590.7h0M1409.9 590.2h0M994.1 639.9h0M1018.9 629.5h0M816.8 1102.8h0M1265.6 1003.0h0M725.5 919.1h0M949.2 730.5h0M1048.0 667.6h0M1147.7 964.9h0M1049.6 800.3h0M1034.0 424.0h0M1098.4 989.7h0M1173.3 299.7h0M951.7 824.1h0M1308.7 830.0h0M998.3 992.9h0M1276.2 1032.0h0M1397.4 690.1h0M1251.4 780.4h0M978.7 735.5h0M1180.6 912.8h0M1367.0 901.0h0M1079.5 864.7h0M1459.9 648.8h0M1238.0 566.6h0M1135.5 614.6h0M1398.8 725.7h0M757.7 988.0h0M1304.7 792.0h0M1173.8 297.1h0M1582.9 909.3h0M805.0 1018.0h0M1319.7 805.9h0M1114.5 815.1h0M1146.3 606.0h0M1228.8 753.6h0M1355.7 580.3h0M1387.0 819.0h0M1219.2 1055.6h0M1385.1 733.5h0M1036.4 670.1h0M761.4 975.0h0M1091.6 297.2h0M1065.9 749.3h0M1076.0 981.8h0M799.5 955.2h0M1220.3 1033.0h0M1233.3 817.9h0M1130.9 284.9h0M1029.0 915.7h0M1135.8 785.6h0M1348.5 933.0h0M1140.4 599.7h0M1135.3 746.1h0M966.0 928.0h0M1356.1 932.0h0M957.9 1140.5h0M793.5 936.1h0M1011.6 718.8h0M1195.8 813.0h0M1087.4 778.2h0M755.6 1000.4h0"/><path stroke="#d5446d" d="M1167.4 579.6h0M1237.2 1046.2h0M1148.0 697.0h0M1222.6 755.5h0M1330.9 616.5h0M1126.6 684.8h0M1171.3 941.0h0M1162.3 766.5h0M1273.7 718.7h0M853.6 1133.6h0M1423.8 683.2h0M1076.5 965.1h0M1059.9 446.7h0M1079.1 941.0h0M1151.1 324.5h0M1213.4 851.0h0M1112.6 959.6h0M1322.0 762.9h0M1396.7 693.6h0M1405.3 646.5h0M1415.4 631.5h0M1214.6 795.9h0M1059.3 846.3h0M1212.0 622.0h0M954.4 715.7h0M1098.6 711.6h0M1433.5 636.5h0M1156.0 700.0h0M1429.7 715.2h0M1129.6 681.9h0M1359.4 496.6h0M1179.5 294.2h0M744.3 921.5h0M1209.0 352.0h0M1170.0 964.6h0M960.2 1134.7h0M788.7 954.5h0M814.3 1097.0h0M1320.1 805.5h0M729.4 980.7h0M1126.5 814.2h0M1364.9 666.7h0M1048.7 729.2h0M1195.0 504.0h0M987.0 658.5h0M1161.9 755.8h0M1074.1 795.8h0M1283.9 746.7h0M969.6 702.9h0M1088.0 678.0h0M1569.6 997.4h0M1181.0 332.1h0M1117.0 915.0h0M1116.8 386.8h0M1253.0 1028.5h0M1207.5 262.7h0M1400.2 670.9h0M774.1 966.7h0M1061.3 974.1h0M1109.2 747.2h0M1400.0 623.6h0M1300.6 827.9h0M800.8 1019.3h0M1338.3 657.2h0M1275.3 769.0h0M1190.8 740.5h0M877.5 1106.6h0M875.0 1107.6h0M1367.1 907.4h0M1198.0 989.4h0M1076.9 982.0h0M1301.6 275.1h0M1021.0 930.8h0M1030.3 1097.9h0M1092.6 710.8h0M1366.4 515.6h0M1377.7 604.7h0M1432.0 710.2h0M1158.0 582.2h0M1171.0 600.0h0M1503.4 1156.9h0M1180.1 300.0h0M1581.7 886.9h0M916.4 1164.7h0M1240.8 751.7h0M968.3 653.5h0M1329.5 773.6h0M1245.7 629.7h0M1356.0 511.4h0M1153.5 568.9h0M798.5 1081.5h0M1317.0 961.0h0M373.3 1072.3h0M1149.9 1045.4h0M1355.7 585.7h0M833.0 869.6h0M1497.5 1071.7h0M1389.6 686.0h0M1116.0 633.0h0M1022.4 968.6h0M1577.9 928.3h0M720.1 975.4h0M711.0 982.5h0M1073.6 896.6h0M1673.4 892.9h0M1245.6 644.9h0M1422.0 1105.4h0M744.8 924.3h0M1059.2 743.2h0M1021.6 914.2h0M1108.4 574.8h0M1116.6 846.8h0M768.7 975.2h0M885.6 1141.3h0M925.7 1105.9h0M1018.6 1101.0h0M1199.4 874.3h0M885.8 1228.0h0M1031.8 694.0h0M1180.7 898.0h0M1417.8 643.7h0M752.1 941.9h0M1705.6 857.3h0M1052.2 706.4h0M1265.5 318.8h0M1313.1 273.5h0M1284.3 778.3h0M1480.4 667.1h0M739.9 923.2h0M1249.3 622.1h0M1360.4 281.3h0M1016.0 752.5h0M1304.5 326.0h0M1327.2 946.1h0M907.4 983.6h0M1192.0 978.4h0M1235.8 1130.4h0M1248.3 863.7h0M1128.6 289.8h0M718.5 1003.0h0M816.1 1029.6h0M1460.7 491.8h0M1365.6 488.6h0M965.2 655.4h0M978.0 796.9h0M1149.4 553.3h0M841.4 1045.0h0M1097.8 789.4h0M1203.0 345.6h0M985.2 683.7h0M874.5 1223.7h0M1540.0 838.4h0M1299.0 282.4h0M1407.9 712.4h0M1592.5 886.1h0M1113.7 822.2h0M806.3 1029.9h0M1060.1 1109.4h0M1206.7 587.2h0M1022.0 990.9h0M841.0 1167.0h0M1391.5 735.1h0M791.6 954.7h0M1364.7 289.4h0M1499.3 1135.8h0M1155.2 809.2h0M1302.8 831.1h0M1729.5 897.2h0M756.5 964.9h0M938.0 1121.0h0M935.0 851.1h0M889.1 967.0h0M1639.6 885.1h0M1304.9 784.9h0M1207.7 260.8h0M1068.9 300.4h0M1308.8 725.3h0M1031.0 909.0h0M1229.5 763.2h0M1711.6 889.2h0M1345.6 632.1h0M971.2 729.8h0M1356.4 733.7h0M1236.7 1001.9h0M1441.0 704.9h0M1444.2 1104.6h0M1404.8 637.4h0M734.0 997.8h0M1290.1 788.3h0M851.4 1016.3h0M1364.1 286.2h0M1727.8 856.7h0M747.8 1023.5h0M1020.2 730.4h0"/><path stroke="#e55064" d="M1218.0 401.6h0M892.8 1221.0h0"/><path stroke="#ec5860" d="M1301.2 701.2h0M1311.9 541.8h0M1421.7 746.6h0"/><path stroke="#f2625d" d="M1211.6 879.2h0M1366.0 915.0h0M986.7 644.5h0"/><path stroke="#d5446d" d="M1074.2 1002.7h0M1334.3 649.0h0M1143.6 594.8h0M1385.9 617.5h0M1289.9 785.6h0M1116.7 979.6h0M958.4 1119.1h0M744.8 951.3h0M1320.9 615.4h0M1025.5 805.9h0M1012.6 413.9h0M1423.8 627.2h0M1192.7 868.1h0M1592.1 959.7h0M1338.2 766.4h0M1456.2 644.5h0M1338.4 360.8h0M1720.3 853.8h0M719.5 990.4h0M994.0 664.8h0M999.2 992.4h0M894.8 739.7h0M1361.8 761.1h0M1501.1 1072.2h0M1009.9 821.9h0M1055.1 739.3h0M1401.0 591.3h0M1164.7 756.3h0M951.9 771.4h0M1085.7 298.6h0M1170.4 886.5h0M1563.0 859.7h0M1239.7 1105.1h0M1386.5 751.6h0M1500.2 1073.8h0M1175.1 754.6h0M1084.3 300.8h0M1187.1 921.6h0M1237.9 647.1h0M987.8 656.6h0M1143.1 566.0h0M1313.9 249.2h0M1662.8 851.4h0M1121.6 985.6h0M982.0 713.8h0M1151.1 758.7h0M1566.6 864.3h0M1186.9 826.3h0M1082.9 950.9h0M1245.8 863.8h0M1023.4 684.0h0"/><path stroke="#de4968" d="M1307.2 275.1h0M949.2 1176.2h0M1200.7 850.7h0M1324.7 813.4h0M897.4 976.3h0M1657.2 903.3h0M1048.2 774.4h0M1231.2 1110.9h0M1153.1 561.1h0M1248.7 766.4h0M1081.6 1103.8h0M1357.2 945.1h0M1324.3 261.7h0M1024.5 696.9h0M1430.9 686.4h0M1032.3 385.5h0M877.1 1111.8h0M1707.7 887.3h0M1269.0 310.3h0M1325.6 282.2h0M1595.8 819.6h0M1355.0 961.0h0M1413.6 664.3h0M1302.1 763.4h0M1211.6 823.5h0M1008.5 1000.1h0M1316.3 809.6h0M1428.3 734.5h0M1375.2 506.6h0M988.3 871.3h0M1200.9 768.9h0M1070.8 844.8h0M1041.6 1104.8h0M1190.3 323.0h0M1166.8 894.4h0M996.6 672.3h0M994.2 996.2h0M1166.9 873.2h0M877.2 1112.4h0M1331.8 816.7h0M1318.7 547.6h0M1593.8 967.1h0M1057.2 784.3h0M1090.4 567.1h0M948.5 714.5h0M1180.4 774.2h0M1269.8 665.3h0M1356.8 745.4h0M1598.1 936.3h0M1332.6 411.3h0M802.2 1123.0h0M1106.5 946.7h0M1241.5 1117.1h0M1494.9 1125.4h0M1234.0 875.2h0M1150.8 825.8h0M1022.1 632.3h0M754.0 1024.7h0M1117.1 795.7h0M1280.0 1139.0h0M951.0 1127.8h0M1307.9 326.9h0M1196.6 1055.3h0M1098.0 823.9h0M1663.4 872.9h0M1256.6 1038.1h0M1611.6 844.4h0M1313.8 254.6h0M1045.2 663.7h0M1024.4 407.1h0M1001.0 830.6h0M1195.7 840.3h0M715.0 990.0h0M941.5 874.6h0M1425.1 637.7h0M1297.4 1055.0h0M994.1 706.5h0M1224.3 882.4h0M1102.2 290.8h0M1237.7 645.0h0M1383.0 694.5h0M1029.6 808.0h0M1352.8 711.9h0M1306.5 629.5h0M1259.5 1026.4h0M1044.2 662.1h0M1304.4 631.9h0M988.1 736.1h0M1661.9 910.7h0M1132.0 287.8h0M1198.9 846.7h0M1398.5 699.8h0M1229.2 847.2h0M1012.2 702.7h0M1154.5 603.6h0M1222.9 789.6h0M1323.9 385.2h0M942.5 822.5h0M1697.3 866.7h0M954.2 1091.8h0M1725.4 850.6h0M1365.7 352.9h0M800.8 1112.9h0M1173.9 301.0h0M1263.2 750.9h0M1311.4 673.0h0M1194.3 921.3h0M1223.7 1033.0h0M1223.4 997.9h0M1039.4 987.6h0M738.5 973.8h0M1275.5 626.1h0M1207.1 202.1h0M1242.7 1106.7h0M1056.6 1113.1h0M809.9 1032.8h0M1271.2 613.3h0M1307.8 593.0h0M1271.8 788.7h0M1272.3 1039.8h0M974.0 643.0h0M765.9 923.7h0M815.8 1088.0h0M1322.3 630.7h0M1044.4 993.2h0M802.1 952.8h0M1501.8 1145.4h0M1140.7 666.5h0M1252.8 309.3h0M1346.4 657.9h0M1252.0 240.6h0M1373.4 657.0h0M1075.2 945.8h0M987.3 727.2h0M1045.2 725.0h0M1529.4 482.8h0M1133.7 807.8h0M1031.9 387.6h0M1362.0 673.6h0M1504.0 798.0h0M1234.8 998.6h0M1045.8 982.2h0M1257.8 993.8h0M1227.2 363.5h0M1206.4 895.1h0M1019.4 687.8h0M1272.2 1047.8h0M1216.5 255.4h0M944.6 1193.0h0M1013.1 781.7h0M1083.4 835.4h0M978.8 639.4h0M1049.9 999.8h0M1184.3 754.5h0M1318.6 274.6h0M1210.7 1092.3h0M1408.9 636.8h0M1528.6 812.6h0M1146.7 767.0h0M872.4 558.3h0M1125.4 858.9h0M1285.4 623.8h0M1072.7 782.6h0M1304.0 783.4h0M1177.0 298.7h0M968.5 732.3h0M1022.9 786.9h0M1025.1 748.1h0M1141.5 955.6h0M1181.2 741.4h0M1077.9 716.4h0M1454.7 642.9h0M1099.2 967.9h0M1313.9 274.8h0M1645.3 906.5h0M1075.7 744.5h0M1192.8 809.6h0M1045.8 1102.3h0M1383.2 716.3h0M946.0 1189.9h0M1070.9 1005.1h0M1154.0 305.2h0M1428.9 657.5h0M1420.6 711.2h0"/><path stroke="#e55064" d="M999.6 705.8h0M886.1 1231.2h0M992.8 644.2h0M1191.1 443.6h0M1370.3 587.8h0M1220.8 858.5h0M1021.7 707.7h0M1268.0 584.7h0M1351.3 607.1h0M1450.7 648.1h0M981.2 651.5h0M1175.1 843.5h0M1013.7 780.8h0M1589.9 906.0h0M1475.7 1091.5h0M1076.0 979.0h0M967.6 1084.7h0M872.0 966.0h0M1316.6 278.5h0M1333.0 671.5h0M1260.3 246.2h0M964.7 718.1h0M1097.4 569.7h0M1158.1 220.2h0M1366.0 756.7h0M938.4 852.5h0M1081.0 591.4h0M1340.7 388.8h0M1365.1 637.0h0M1413.0 657.0h0M1270.4 1124.4h0M938.5 712.0h0M1151.0 598.3h0M1034.3 972.3h0M1382.0 731.7h0M1081.9 303.2h0M985.5 790.2h0M870.6 1115.1h0M1377.0 820.0h0M1083.1 1107.5h0M1300.4 735.2h0M1202.7 917.3h0M1200.3 907.1h0M763.3 928.1h0M1299.7 277.6h0M1207.1 883.2h0M1392.6 666.9h0M1448.5 660.6h0M1047.5 693.0h0M1045.8 671.7h0M1547.0 820.6h0M1531.6 1022.0h0M1164.3 887.8h0M999.8 661.7h0M1027.4 930.7h0M1323.4 387.3h0M1403.4 677.4h0M1219.4 482.6h0M1150.2 841.8h0M1197.5 891.9h0M1432.8 612.7h0M1425.9 598.3h0M1205.0 894.3h0M1034.2 762.7h0M1030.1 828.5h0M1140.0 609.7h0M1313.4 325.5h0M1619.8 884.4h0M1353.0 701.1h0M1025.4 439.6h0M1121.7 868.1h0M1378.5 612.5h0M1159.3 744.5h0M1489.4 1079.8h0M1368.2 972.4h0M1424.3 674.3h0M762.0 1036.0h0M1114.9 761.7h0M1406.3 647.7h0M1000.6 726.3h0M1209.9 892.0h0M1171.6 901.6h0M1272.9 664.4h0M1307.4 272.7h0M1259.1 239.1h0M1083.1 808.9h0M1233.7 364.8h0M996.3 659.1h0M1373.6 658.4h0M1142.4 612.1h0M828.9 1122.7h0M1348.4 940.2h0M1314.4 381.0h0M1133.8 827.3h0M1064.7 945.0h0M1027.5 400.3h0M1734.8 874.9h0M1156.7 855.1h0M1686.3 848.5h0M743.0 1016.8h0M1388.6 695.8h0M1056.3 835.6h0M1428.5 953.3h0M1358.0 811.0h0M745.6 964.1h0M1061.2 295.0h0M1392.8 735.0h0M1328.6 666.5h0M976.6 1120.6h0M961.1 652.1h0M891.2 1217.6h0M890.0 1015.0h0M1235.7 1045.6h0M1067.4 458.6h0M1233.2 367.2h0M1375.5 508.0h0M1166.0 867.8h0M1608.0 856.6h0M1564.1 861.6h0M1434.1 944.5h0M1153.1 847.2h0M1287.4 677.5h0M1392.1 621.7h0M831.0 1083.2h0M1341.7 600.0h0M1211.6 360.0h0M1396.2 623.4h0M721.5 990.2h0M365.0 1066.2h0M1416.4 956.4h0M1440.6 501.2h0M1033.4 781.2h0M998.0 1048.0h0M1003.7 702.2h0M1391.3 679.2h0M1223.8 857.4h0M1418.9 612.4h0M889.2 966.9h0M1172.9 847.7h0M1421.7 631.3h0M949.8 600.0h0M1039.5 670.7h0M1176.2 783.7h0M1146.3 862.6h0M1053.4 445.2h0M1124.1 396.8h0M1533.2 477.2h0M1005.4 821.0h0M1216.5 888.1h0M843.6 1132.0h0M1132.2 834.4h0M1171.3 831.6h0M1335.6 721.8h0M1165.4 899.0h0M723.5 982.5h0M1208.1 1070.8h0M1015.4 785.6h0M886.7 575.1h0M986.5 770.8h0M933.7 1167.2h0M1308.5 674.0h0M1685.6 871.8h0M1215.1 268.9h0M870.3 1122.3h0M971.9 692.8h0M1141.9 784.4h0M958.3 836.6h0M940.6 823.7h0M1146.3 322.3h0M1504.3 1146.0h0M1294.0 324.0h0M1357.3 285.3h0M1355.0 825.6h0M1214.6 817.9h0M1360.8 716.7h0M943.0 891.2h0M1627.1 874.7h0M1367.7 701.9h0M714.4 997.5h0M1374.7 974.1h0M1284.3 705.3h0M997.1 1008.7h0M1429.2 950.6h0M1334.1 803.3h0M1394.1 646.7h0M819.9 1024.1h0M748.8 1025.9h0M1046.0 633.0h0M1199.9 242.4h0M1143.2 610.4h0M1390.4 681.4h0M1309.1 778.4h0M1728.7 870.6h0M1705.4 844.1h0M1492.0 505.0h0M1051.4 797.0h0M944.0 674.0h0M985.9 836.7h0M1472.0 1064.4h0M1253.3 750.4h0M1211.6 583.8h0M730.2 964.3h0M1667.8 859.4h0M1291.0 335.0h0M1475.6 679.0h0M1183.4 280.8h0M1157.0 324.3h0M739.8 925.8h0M999.2 686.2h0M975.9 708.4h0M1394.1 735.8h0M1141.7 549.6h0M1247.0 573.0h0M1323.6 698.4h0M1343.3 566.3h0M1308.1 399.4h0M1206.5 1076.1h0M1281.4 1127.1h0M818.0 1092.8h0M1011.3 823.3h0M1335.9 693.4h0M1126.3 977.4h0M918.1 1163.2h0M1431.7 662.7h0M1690.5 865.0h0M1172.1 823.4h0M374.5 1074.4h0M976.4 833.5h0M1060.2 1109.6h0M939.2 855.3h0M754.3 1005.2h0M1027.6 804.6h0M981.7 667.5h0M1145.6 565.7h0M1430.7 641.0h0M958.0 1108.8h0M1528.0 1039.0h0M1071.3 1108.0h0M1072.9 1106.1h0M844.8 1102.3h0M1144.0 636.0h0M1407.0 1097.6h0M1433.2 621.6h0M990.6 724.4h0M1418.5 610.8h0M1576.2 876.1h0M1023.3 785.0h0M1022.0 670.0h0M800.4 1030.0h0M1013.7 1096.5h0M1433.7 666.4h0M1040.4 437.7h0M809.3 873.3h0M1027.9 393.6h0M988.9 730.0h0M1058.6 760.8h0M1136.5 598.8h0M1021.4 405.5h0M1036.5 958.1h0"/><path stroke="#ec5860" d="M1495.5 1074.2h0M1105.9 959.5h0M1461.4 1105.5h0M750.4 1013.9h0M1007.1 721.8h0M1333.1 355.3h0M1360.2 678.4h0M1133.8 794.6h0M1113.9 852.3h0M1161.0 1047.1h0M1013.2 915.4h0M1456.6 1101.3h0M1144.1 833.1h0M1144.0 306.0h0M1041.1 739.9h0M1326.0 782.2h0M996.6 676.8h0M1399.9 624.2h0M1232.5 1089.7h0M1185.3 278.7h0M1271.1 1013.3h0M1445.2 498.3h0M1362.2 972.9h0M1215.4 289.6h0M784.2 942.1h0M1103.0 825.1h0M1068.4 818.3h0M1568.6 865.4h0M1417.5 651.3h0M1220.5 1088.2h0M1524.5 1045.9h0M1395.8 715.7h0M1154.6 320.4h0M1154.9 422.6h0M1133.3 605.2h0M733.1 971.2h0M978.6 828.6h0M1534.8 818.5h0M987.2 742.8h0M1035.2 974.9h0M946.2 823.1h0M1082.3 794.9h0M1149.0 607.4h0M1587.9 891.3h0M1118.9 679.7h0M1064.5 1110.6h0M1052.2 1003.0h0M808.4 1012.2h0M1018.4 985.8h0M945.5 771.2h0M1065.1 591.1h0M1322.6 702.5h0M979.6 709.8h0M1189.3 860.7h0M1228.9 793.8h0M1296.4 720.5h0M1374.4 706.5h0M946.6 824.2h0M1280.2 1128.7h0M978.8 742.4h0M1024.0 672.0h0M1110.0 676.6h0M938.6 689.6h0M1276.2 613.1h0M1294.3 291.1h0M845.8 1097.0h0M1192.3 909.6h0M1602.6 875.3h0M1175.3 855.5h0M1228.0 616.0h0M1114.5 981.5h0M982.0 612.4h0M726.6 995.6h0M1350.1 603.0h0M1006.1 1014.7h0M1352.4 927.2h0M1013.2 970.3h0M1205.0 500.6h0M1029.6 763.3h0M1131.9 848.3h0M1350.6 365.1h0M1673.0 852.2h0M1436.0 509.0h0M1077.5 1005.4h0M1225.4 553.6h0M1026.5 1103.9h0M1662.7 848.4h0M1047.7 730.0h0M1124.0 797.3h0M1107.8 977.8h0M1079.9 981.4h0M1186.9 272.8h0M1200.9 826.7h0M1486.6 1084.1h0M1499.8 1124.1h0M1056.6 960.0h0M1380.0 883.0h0M902.0 1196.9h0M941.7 729.1h0M1235.9 311.5h0M879.4 1107.3h0M1412.9 600.5h0M1014.9 404.1h0M1349.6 940.9h0M1382.5 585.8h0M1423.7 949.9h0M1284.8 1127.9h0M1488.5 1082.4h0M1357.0 719.1h0M1258.2 335.2h0M1128.0 587.0h0M1136.7 951.6h0M1011.4 701.2h0M1055.4 442.9h0M1237.3 648.1h0M1416.4 744.4h0M1683.0 860.3h0M1030.2 754.9h0M1183.6 544.8h0M954.3 821.3h0M1206.7 924.5h0M1288.2 651.8h0M952.7 762.5h0M1705.6 868.9h0M1368.3 693.3h0M961.4 688.4h0M832.0 1075.9h0M954.2 648.3h0M1288.8 1149.6h0M1416.7 662.9h0M798.0 878.4h0M983.8 672.2h0M1014.6 901.0h0M1594.3 816.1h0M1020.1 406.4h0M980.3 682.1h0M828.8 1075.2h0M993.2 326.1h0M1227.0 865.0h0M1421.9 618.9h0M1123.9 957.0h0M995.0 640.1h0M1259.9 238.7h0M1050.0 848.3h0M839.3 1103.2h0M1264.7 306.9h0M1183.2 333.0h0M1687.0 898.9h0M1306.6 581.4h0M1099.5 811.2h0M1360.4 669.4h0M886.2 1115.1h0M1301.2 1166.9h0M958.7 695.8h0M1305.6 743.1h0M1126.3 285.9h0M1187.0 323.5h0M865.7 556.8h0M1734.0 884.2h0M1075.9 292.6h0M1113.2 818.0h0M1099.0 991.7h0M948.4 713.2h0M1172.1 298.9h0M1141.2 704.4h0M1425.0 689.7h0M1423.0 960.1h0M1196.8 1065.4h0M1209.6 204.7h0M1522.2 814.1h0M909.6 1165.0h0M1245.6 763.1h0M872.7 561.0h0M1210.4 864.6h0M1435.6 620.3h0M1411.5 656.5h0M1714.0 878.1h0M1385.2 965.8h0M1328.5 622.9h0M1239.8 1010.6h0M822.6 1073.0h0M949.0 1144.8h0M1103.7 953.7h0M1186.7 556.0h0M758.6 1023.6h0M1338.9 565.6h0M984.7 887.1h0M1159.2 426.1h0M1471.6 676.2h0M1260.2 737.1h0M1125.2 952.5h0M1231.2 770.8h0M1425.8 951.0h0M1330.0 984.4h0M1290.3 616.2h0M1250.7 1004.9h0M1373.7 713.6h0M1602.9 877.1h0M357.6 1059.8h0M831.2 1077.1h0M1262.7 306.6h0M960.0 847.9h0M1359.0 353.3h0M1030.5 706.0h0M1198.4 1064.3h0M1165.2 956.1h0M1363.7 356.4h0M968.2 793.5h0M808.0 877.7h0M1245.5 839.9h0M1090.7 834.1h0M1071.5 715.9h0M1137.4 869.6h0M1052.6 793.1h0M1220.6 1002.8h0M1213.4 827.2h0M1541.4 824.2h0M1042.8 441.0h0M1258.8 638.5h0M1194.1 896.0h0M1231.5 805.2h0M896.8 1208.8h0M1106.5 817.7h0M1083.2 980.7h0M1182.1 559.7h0M1429.6 722.4h0M1237.9 619.0h0M1318.3 630.2h0"/><path stroke="#f2625d" d="M1394.1 666.3h0M1260.1 242.8h0M950.0 1195.8h0M1263.6 251.4h0M1126.0 595.0h0M1286.9 633.7h0M1172.0 626.0h0M1597.0 881.4h0M1378.3 700.8h0M907.5 1050.9h0M1524.1 1045.5h0M1259.3 303.7h0M1124.7 816.4h0M1005.2 802.8h0M1010.0 986.4h0M1224.5 1094.3h0M1136.2 288.8h0M1304.0 727.2h0M1528.9 482.5h0M962.8 730.3h0M1394.0 636.4h0M1202.1 720.5h0M1258.9 638.7h0M1539.4 473.9h0M1339.8 791.6h0M1366.8 910.5h0M1013.5 750.6h0M1329.4 782.0h0M937.5 844.4h0M1416.9 727.2h0M1125.8 980.3h0M1103.1 914.6h0M1390.3 736.9h0M935.0 886.4h0M1006.8 698.9h0M1014.5 690.4h0M1012.4 739.7h0M1321.7 547.2h0M1539.2 474.5h0M1191.5 321.9h0M1189.0 522.0h0M1692.7 896.8h0M892.0 1111.0h0M722.7 993.3h0M1334.4 1188.0h0M1265.2 596.2h0M1407.5 651.7h0M804.6 1081.4h0M1242.4 1170.4h0M1435.3 693.3h0M1085.7 577.6h0M1384.1 582.0h0M1155.9 321.8h0M1324.2 278.6h0M1168.0 308.0h0M1576.0 875.9h0M1050.6 665.3h0M881.8 974.5h0M1291.3 1154.6h0M1660.9 844.1h0M1263.9 333.5h0M1199.3 1079.9h0M877.4 1230.9h0M1204.0 579.6h0M1301.0 561.0h0M900.2 1063.2h0M1661.0 855.9h0M1248.5 850.3h0M1355.5 929.8h0M1207.2 203.9h0M1586.4 957.0h0M1364.3 612.5h0M1113.0 976.0h0M1034.9 712.7h0M1244.2 782.8h0M1000.9 730.7h0M1333.1 720.7h0M969.7 694.8h0M1380.2 850.7h0M1237.8 630.3h0M1272.9 639.9h0M1701.6 856.1h0M1267.3 597.5h0M1082.3 841.5h0M1221.0 1053.9h0M1027.7 755.6h0M1297.7 682.3h0M1247.3 1048.4h0M1539.8 472.5h0M1168.0 582.0h0M1227.5 898.7h0M1010.6 738.3h0M1244.2 1027.0h0M1536.6 817.8h0M1364.1 498.8h0M1237.1 897.1h0M1201.6 917.9h0M1318.4 588.2h0M745.8 1101.9h0M1423.3 957.8h0M909.6 1045.1h0M969.4 723.4h0M1234.8 838.9h0M1243.3 1027.9h0M1234.8 847.3h0M1189.9 273.6h0M1098.8 993.0h0M825.0 1122.7h0M1417.8 644.3h0M830.6 1086.5h0M1541.4 472.2h0M1271.0 262.0h0M1197.9 780.9h0M1019.0 1047.4h0M1220.1 905.7h0M1406.2 735.6h0M1303.9 1176.7h0M746.2 1011.1h0M1441.1 645.5h0M1432.8 659.7h0M1479.4 671.1h0M1103.4 820.3h0M1299.4 1192.6h0M1245.9 838.1h0M891.0 963.5h0M1115.1 848.8h0M887.3 1116.7h0M1388.7 709.6h0M1012.7 401.6h0M1161.4 321.9h0M1043.2 702.0h0M897.2 1199.7h0M1070.9 957.4h0M967.0 1088.3h0M1518.6 1061.5h0M1201.4 319.6h0M1198.3 271.0h0M1355.8 659.5h0M930.6 1164.2h0M1327.3 961.2h0M1108.1 824.4h0M1289.1 1145.7h0M977.2 651.9h0M1229.4 1026.3h0M1109.1 860.0h0M952.7 818.5h0M1356.7 934.3h0M1239.2 311.8h0M1283.2 292.9h0M1681.9 894.4h0M1009.3 750.3h0M1181.0 544.7h0M353.9 1060.4h0M1100.2 810.8h0M1215.0 238.0h0M1308.5 785.0h0M1273.7 611.9h0M1342.7 704.9h0M1353.3 936.5h0M1238.2 1052.6h0M1391.0 672.1h0M1268.5 293.4h0M1134.0 905.0h0M1248.7 312.0h0M1601.1 880.2h0M1239.5 318.5h0M1191.8 912.3h0M1441.2 500.6h0M965.4 886.4h0M1278.0 311.4h0M1368.3 502.5h0M929.7 1142.2h0M1113.1 777.1h0M1347.7 360.8h0M1288.8 1198.9h0M1069.8 841.7h0M1089.5 820.2h0M1008.8 728.3h0M1030.2 691.8h0M1571.2 870.6h0M1051.1 984.7h0M818.3 1164.7h0M1436.3 951.0h0"/><path stroke="#f66c5c" d="M1331.8 809.1h0M1232.2 812.2h0M1070.0 1106.7h0M1068.8 953.9h0M1138.0 864.5h0M1003.7 715.6h0M1054.1 995.2h0M1445.2 951.2h0M1081.0 994.0h0M1176.6 317.3h0M1438.0 949.4h0M1064.8 802.4h0M1167.3 220.3h0M1228.0 368.3h0M1271.9 1046.1h0M1328.8 378.0h0M967.0 818.7h0M1406.9 965.7h0M1188.0 525.0h0M1327.2 547.3h0M1167.7 951.4h0M1411.6 708.6h0M1256.0 638.2h0M1285.0 289.5h0M849.4 1098.1h0M1326.7 1190.0h0M1060.5 1002.5h0M1016.3 928.2h0M1334.7 660.5h0M1163.7 880.2h0M1322.0 553.1h0M1049.2 432.4h0M1720.0 846.8h0M1500.6 1134.3h0M1017.3 826.0h0M1235.6 1007.6h0M1036.1 712.0h0M1114.8 967.4h0M821.1 1170.7h0M1219.5 879.1h0M1468.7 482.2h0M1488.3 1076.8h0M1118.8 750.3h0M1224.8 1077.9h0M1158.3 221.0h0M824.4 1089.9h0M721.0 992.9h0M964.7 703.3h0M1230.0 367.8h0M1318.0 270.9h0M1195.0 515.0h0M1194.5 235.9h0M1245.7 1101.7h0M1193.4 282.5h0M1231.2 814.1h0M1290.6 714.4h0M1345.0 945.4h0M1147.6 565.8h0M1095.9 973.1h0M899.9 1201.7h0M941.4 877.1h0M1255.6 1003.4h0M1203.7 255.9h0M868.3 980.1h0M828.7 1124.4h0M973.6 862.7h0M1198.7 881.2h0M1323.1 277.2h0M1193.3 322.7h0M1315.6 385.7h0M1231.6 321.9h0M1335.9 1189.4h0M821.3 1105.5h0M699.1 985.3h0M1040.3 431.1h0M1234.4 998.4h0M978.8 761.6h0M1257.0 1008.1h0M1094.1 842.8h0M1148.5 615.5h0M1158.4 1043.5h0M909.4 1047.9h0M1032.4 681.9h0M1013.7 827.1h0M1399.5 594.8h0M1427.2 642.6h0M1356.5 573.9h0M1259.9 627.4h0M1213.9 844.0h0M1501.4 1127.6h0M713.1 992.6h0M1530.5 477.6h0M1346.1 625.5h0M951.7 861.1h0M904.6 1056.7h0M1079.3 979.5h0M1062.1 955.3h0M1427.4 946.8h0M360.8 1063.0h0M1344.7 360.3h0M855.2 1099.8h0M1175.3 833.7h0M1497.0 1125.1h0M1369.1 738.1h0M1047.8 1001.9h0M969.1 658.4h0M1433.9 942.8h0M1185.1 931.1h0M1405.2 603.2h0M1239.4 1117.8h0M1300.6 658.2h0M1218.4 369.8h0M837.4 1080.5h0M1432.4 692.5h0M1104.6 987.5h0M942.3 856.6h0M1042.4 434.4h0M1416.4 677.1h0M1340.4 702.7h0M1446.1 952.4h0M1205.7 198.4h0M1230.3 367.4h0M1055.1 971.7h0M1225.8 989.5h0M1260.8 310.4h0M1017.6 827.2h0M1296.7 740.1h0M1337.1 995.4h0M1241.2 367.4h0M1003.5 739.5h0M1150.9 322.0h0M847.2 1094.1h0M1258.4 1031.7h0M946.2 895.7h0M1019.3 826.6h0M979.8 681.6h0M1375.9 322.7h0M1013.8 914.9h0M1419.2 628.8h0M1012.3 1097.7h0M1239.2 862.3h0M979.5 889.9h0M1065.1 586.5h0M1382.6 651.9h0M1307.7 704.7h0M940.4 878.1h0M944.1 703.6h0M1049.3 432.3h0M1038.3 431.9h0M1155.2 421.8h0M1067.4 591.2h0M1439.9 672.8h0M1407.3 957.9h0M1208.1 208.2h0M1396.4 635.1h0M739.4 1098.8h0M1189.8 441.7h0M1257.4 631.3h0M1337.9 371.4h0M1020.1 928.7h0M689.1 1075.2h0M1291.4 660.9h0M1188.7 926.6h0M936.5 703.3h0M1317.9 272.2h0M1296.3 1157.8h0M1022.6 704.5h0M957.9 712.5h0M1296.8 1189.0h0M1373.8 630.7h0M1376.4 510.3h0M1458.2 494.8h0M1430.6 627.5h0M1361.0 544.0h0M1379.7 831.0h0M1542.3 820.9h0M1081.5 578.7h0M1352.9 931.0h0M1244.2 307.2h0M1243.9 1038.6h0M1000.9 634.2h0M1162.4 1041.9h0M1227.3 321.6h0M1350.2 752.8h0M751.6 1097.8h0M1240.3 651.1h0M1299.0 317.0h0M1385.5 577.4h0M1235.7 999.5h0"/><path stroke="#f9785d" d="M1025.6 1098.2h0M1473.4 659.9h0M1216.5 1077.7h0M1205.3 196.5h0M1103.8 949.3h0M1338.2 1003.2h0M1209.8 919.2h0M1216.8 214.3h0M1238.6 1032.5h0M1494.0 1155.0h0M957.0 979.0h0M1551.0 845.0h0M872.0 1108.0h0M970.6 617.4h0M1276.3 286.5h0M1070.6 846.0h0M1117.0 589.0h0M1385.9 669.9h0M1305.7 607.8h0M1118.1 986.9h0M1293.5 638.1h0M1237.3 624.4h0M1310.9 251.3h0M1706.3 878.2h0M1198.0 308.0h0M1366.6 539.4h0M1264.9 321.4h0M1097.3 1102.4h0M1019.5 839.1h0M1725.2 895.1h0M1244.9 1106.5h0M1243.5 992.1h0M1277.6 1042.0h0M749.2 1003.7h0M1289.9 1190.0h0M986.0 1083.0h0M947.5 822.2h0M1090.0 955.0h0M1308.0 1110.0h0M1144.0 688.0h0M1160.1 1047.1h0M1455.0 954.6h0M1019.7 1098.2h0M1301.0 556.0h0M679.2 1079.1h0M896.7 735.3h0M1356.0 293.4h0M1274.4 1030.3h0M1191.3 441.2h0M825.8 1098.7h0M1098.0 919.5h0M1240.6 1106.2h0M1229.8 860.8h0M1028.0 425.0h0M1153.9 421.7h0M1239.6 611.4h0M1243.8 632.1h0M1173.6 833.9h0M1234.6 1008.8h0M825.0 1098.2h0M1010.7 735.4h0M1064.9 952.0h0M1559.4 953.6h0M1300.7 289.6h0M1038.2 714.0h0"/><path stroke="#d5446d" d="M1176.3 748.5h0M1013.3 1095.1h0M1079.0 986.0h0M1176.0 905.2h0M1696.1 891.4h0M1405.5 622.1h0M998.0 669.3h0M1298.0 286.1h0M1142.7 609.9h0M950.7 704.9h0M1356.0 276.7h0M1049.1 986.4h0M1167.1 798.7h0M897.7 1207.7h0M1229.3 1084.8h0M1116.3 808.3h0M1377.1 970.1h0M1267.8 687.5h0M1009.5 998.5h0M1002.2 699.8h0M1449.9 633.4h0M1729.6 867.7h0M1331.2 409.6h0M830.1 1131.5h0M1289.3 628.5h0M1719.0 876.3h0M1397.8 750.2h0M1399.3 666.9h0M1171.4 789.8h0M1023.7 408.0h0M1137.4 764.4h0M710.4 951.4h0M1521.2 1062.5h0M1105.4 812.4h0M1636.3 893.3h0M1405.0 669.8h0M1440.7 617.6h0M1452.7 1092.1h0M1100.7 981.7h0M1281.2 1007.4h0M1104.0 913.2h0M1300.4 645.4h0"/><path stroke="#de4968" d="M1309.3 542.4h0M1237.0 1103.6h0M1558.2 857.6h0M726.0 997.0h0M1335.0 636.0h0M812.8 898.5h0M1024.6 704.9h0M1111.9 782.6h0M901.3 1198.8h0M1158.2 316.7h0M1150.7 612.6h0M1700.9 902.5h0M1044.3 436.7h0M1228.1 808.7h0M974.1 713.3h0M1278.5 1045.6h0M1360.0 817.0h0M975.5 842.1h0M898.3 1210.1h0M1053.0 421.0h0M1053.1 975.8h0M1302.2 774.0h0M1432.0 679.3h0M1310.7 327.5h0M1208.7 203.3h0M1611.1 905.6h0M1276.1 780.5h0M876.6 563.0h0M1090.6 950.7h0M1396.3 701.7h0M1124.3 840.1h0M1144.3 554.0h0M1192.3 850.6h0M1507.0 799.0h0M1372.1 617.4h0M1314.7 280.1h0M779.3 956.2h0M978.4 671.8h0M1502.8 1069.9h0M1310.3 272.5h0M1038.1 736.5h0M1193.5 916.2h0M1055.0 447.2h0M1221.1 894.1h0M1106.9 951.8h0M1400.2 582.2h0M994.7 321.5h0M1054.7 850.5h0M1330.6 389.5h0M977.5 664.5h0M1592.9 968.9h0M1438.1 652.5h0M779.3 997.3h0M1174.0 797.9h0M1692.6 900.7h0M1428.7 676.2h0M1167.4 840.6h0M1059.0 990.2h0M1499.4 1146.5h0M1283.1 772.4h0M1154.6 624.4h0M1210.6 877.0h0M1028.8 707.6h0M1392.8 692.9h0M1344.2 703.8h0M1379.5 611.8h0M1127.7 288.4h0M1326.5 960.1h0M1124.9 685.6h0M814.1 1172.7h0M1025.5 804.4h0M1597.8 964.8h0M1463.6 486.7h0M1259.6 1020.9h0M1075.0 853.7h0M1232.9 844.8h0M990.3 796.7h0M950.2 760.9h0M1032.3 961.1h0M1439.7 694.5h0M1637.0 908.1h0M1416.1 738.5h0M1355.2 293.9h0M1601.4 881.3h0M1332.1 637.4h0M1417.6 660.8h0M1066.1 990.7h0M1301.9 754.0h0M1129.1 941.1h0M1377.0 845.0h0M1434.6 621.1h0M1382.3 733.5h0M1456.9 493.9h0M1375.1 695.9h0M1191.7 317.8h0M683.3 1078.9h0M1668.1 876.0h0M1063.8 301.2h0M1275.2 790.2h0M1478.4 1087.9h0M936.2 847.9h0M1305.0 579.9h0M1277.0 261.0h0M903.2 1205.4h0M1396.0 687.5h0M790.4 987.8h0M1708.0 897.8h0M1082.4 743.0h0M1208.4 890.8h0M1402.5 688.9h0M1124.3 788.0h0M989.4 684.0h0M1016.9 414.3h0M1140.9 803.9h0M1132.9 678.5h0M886.2 1133.5h0M1650.7 882.4h0M1315.3 662.9h0M1269.7 712.9h0M749.6 1019.8h0M1319.3 811.7h0M1033.6 384.1h0M1052.2 446.7h0M1112.9 727.9h0M1497.0 1139.0h0M1021.5 413.6h0M1358.0 933.4h0M1087.0 673.0h0M1416.6 627.5h0M1429.5 698.1h0M984.0 727.2h0M839.2 1103.1h0M1545.0 468.9h0M1191.5 447.3h0M735.5 1002.8h0M1116.9 989.1h0M1064.5 590.1h0M1026.2 404.3h0M825.5 1096.8h0M997.9 971.4h0M900.4 1197.9h0M1267.9 1043.0h0M1404.6 965.4h0M973.4 783.4h0M1056.5 755.2h0M1365.5 585.5h0M1282.3 1127.3h0M1732.0 877.8h0M733.7 993.2h0M899.2 1205.8h0M1503.2 1072.0h0M1252.8 339.4h0M888.7 1126.2h0M1063.9 745.1h0M1345.5 668.7h0M1270.9 295.6h0M1479.1 1089.5h0M1447.3 648.0h0M1281.4 663.4h0M1106.7 776.6h0M739.3 1102.1h0M1288.0 1054.0h0M949.2 1130.1h0M942.8 835.2h0M936.5 1140.1h0M1226.5 312.8h0M1025.8 392.6h0M1058.2 1108.9h0M1044.0 689.0h0M1114.2 775.8h0M1152.5 625.7h0M1024.9 984.1h0M794.2 1078.5h0M1232.9 741.5h0M1677.2 850.6h0M987.8 779.3h0M1688.1 876.9h0M1125.0 688.5h0M1215.4 1089.0h0M1704.7 898.1h0M1169.9 810.8h0M1502.1 1149.3h0M1692.8 898.3h0M1163.5 614.9h0M1392.7 634.1h0M1044.8 665.3h0M1436.5 648.7h0M1335.2 810.0h0M1350.1 765.7h0"/><path stroke="#e55064" d="M1054.0 725.7h0M1648.5 889.7h0M1359.8 734.9h0M1126.9 954.4h0M1089.1 1103.6h0M1334.0 392.5h0M960.0 728.8h0M1391.8 691.1h0M1034.8 667.6h0M1676.1 857.6h0M1652.5 894.6h0M719.0 990.4h0M1065.2 747.8h0M1241.6 751.5h0M1192.2 926.9h0M931.8 634.6h0M1184.4 279.7h0M1417.9 639.7h0M938.2 801.4h0M1250.8 316.7h0M1239.3 330.9h0M1023.2 719.9h0M1432.0 670.0h0M1331.7 382.1h0M1196.6 1064.5h0M1466.1 679.0h0M1321.0 812.4h0M1036.9 969.9h0M1243.6 445.4h0M1325.6 727.9h0M1326.1 650.2h0M1595.8 872.2h0M1430.1 663.4h0M1308.2 662.6h0M1415.1 629.7h0M1165.1 1042.4h0M995.7 674.5h0M868.3 1107.8h0M1442.0 662.4h0M1154.3 425.6h0M1313.6 1114.4h0M1138.0 642.6h0M1164.1 779.3h0M994.9 1035.1h0M1119.0 863.8h0M1357.2 708.8h0M990.9 659.5h0M1431.8 604.7h0M1458.0 952.3h0M1134.1 624.1h0M805.7 1032.4h0M1056.0 598.0h0M1288.6 746.7h0M1101.0 946.9h0M950.8 898.3h0M1203.1 767.4h0M741.8 1098.7h0M1455.0 639.5h0M924.0 983.0h0M1209.2 717.5h0M879.1 567.9h0M1238.0 897.2h0M1211.4 210.1h0M1371.8 906.6h0M1218.4 824.7h0M1374.0 814.0h0M1003.7 827.0h0M1247.4 277.4h0M1203.6 278.2h0M1334.6 693.8h0M1006.6 636.2h0M1209.2 762.6h0M997.1 673.4h0M967.9 844.2h0M1352.5 291.8h0M1238.2 841.2h0M1357.7 617.2h0M1159.4 815.9h0M1631.1 905.2h0M1234.8 1026.5h0M1418.6 749.1h0M747.0 976.0h0M1231.4 826.2h0M1261.9 664.2h0M1263.0 1178.0h0M893.4 1219.4h0M1059.4 632.0h0M1397.5 720.3h0M1297.1 281.0h0M750.6 1020.1h0M1288.0 1138.0h0M1025.8 724.2h0M1359.0 971.4h0M1226.4 1058.1h0M1311.1 259.4h0M1377.0 878.4h0M1346.4 686.9h0M1174.3 832.0h0M1263.1 290.2h0M1256.2 1014.1h0M1367.1 733.8h0M960.8 732.7h0M763.0 1036.0h0M1350.8 938.4h0M1287.6 1007.6h0M1240.9 1020.8h0M1138.0 556.0h0M1330.6 1188.8h0M1243.3 775.8h0M1436.9 718.4h0M1076.8 955.1h0M1498.5 1135.6h0M966.6 1144.0h0M1253.8 236.5h0M747.7 1098.5h0M946.4 756.8h0M1431.3 653.5h0M1363.5 663.8h0M1045.2 1103.9h0M1219.0 236.0h0M1352.1 287.1h0M1031.1 387.6h0M1186.5 552.7h0M1243.9 361.9h0M1253.0 585.0h0M748.5 973.6h0M879.9 977.9h0M1288.5 288.0h0M1221.3 367.5h0M1050.2 439.2h0M1309.6 264.8h0M1009.8 700.2h0M881.9 1116.0h0M1179.4 750.9h0M1275.1 749.7h0M1250.5 236.2h0M1423.5 708.7h0M1094.1 818.3h0M1132.0 867.5h0M1176.8 887.4h0M1022.6 778.4h0M864.9 555.2h0M1246.4 378.6h0M1142.0 938.0h0M1006.3 782.0h0M819.2 1019.8h0M1395.2 672.2h0M1425.9 689.8h0M900.0 1140.0h0M1040.2 754.6h0M1367.0 946.0h0M1603.4 908.9h0M1189.1 926.4h0M1422.5 686.3h0M1103.2 292.7h0M1019.0 673.0h0M988.9 648.8h0M1413.2 658.0h0M1478.4 1075.6h0M1338.3 604.1h0M1224.1 318.5h0M1252.7 293.1h0M1168.7 225.7h0M890.0 745.0h0M1167.0 861.2h0M1238.9 1109.8h0M1396.0 856.4h0M1211.3 213.0h0M1188.7 928.5h0M1470.3 665.5h0M1375.1 723.2h0M1066.2 761.0h0M1268.5 745.9h0M1325.2 645.9h0M1328.6 1091.0h0M1014.6 406.1h0M1019.8 407.3h0M1197.7 832.1h0M979.6 703.8h0M785.7 892.0h0M1343.7 659.0h0M1021.7 630.9h0M1408.5 711.0h0M1000.6 725.2h0M1400.1 656.7h0M1022.0 1041.0h0M1492.3 1081.9h0M1390.5 726.9h0M1171.6 224.1h0M1302.1 1177.9h0M1335.3 1190.0h0M1151.0 645.0h0M1253.6 1176.0h0M1031.6 461.0h0M1369.2 671.6h0M1127.6 398.4h0M1228.2 1058.4h0M1064.6 999.2h0M1130.5 614.9h0M1301.4 827.2h0M1032.6 789.1h0M1386.8 617.9h0M1389.0 699.4h0M829.1 1126.0h0M1235.4 1056.8h0M1417.7 668.6h0M817.0 1098.3h0M1102.0 292.0h0M1564.0 960.0h0M1386.3 735.8h0M1500.6 1145.1h0M1415.7 743.7h0M1287.4 664.4h0M837.1 1086.3h0M1028.6 912.1h0M1056.4 853.4h0M903.9 1200.6h0M1016.0 670.0h0M1081.1 299.2h0M1670.6 865.7h0M1237.0 287.0h0M1015.8 1092.8h0M1069.5 957.3h0M733.1 946.6h0M960.2 1112.3h0M1048.4 835.1h0M975.1 768.9h0M1228.9 819.3h0M1727.7 893.9h0M1109.8 679.5h0M894.0 1142.4h0M1209.0 922.2h0M1189.4 440.3h0M1332.3 748.2h0M1120.3 389.5h0M1183.7 772.5h0M949.2 855.5h0M1102.4 321.0h0M958.4 707.7h0M1344.8 947.3h0M1157.1 954.3h0M1332.6 666.4h0M1332.8 623.7h0"/><path stroke="#ec5860" d="M1207.0 906.5h0M1018.7 717.6h0M1004.1 1008.4h0M1414.9 687.6h0M1543.0 471.0h0M1681.8 849.4h0M1351.3 357.5h0M918.0 1103.0h0M1343.6 563.7h0M1184.6 885.6h0M1362.0 704.3h0M978.7 638.8h0M1439.5 650.8h0M1702.9 903.0h0M1112.7 749.9h0M1412.4 606.1h0M974.6 1028.0h0M1727.2 854.4h0M1044.5 729.5h0M1187.4 272.0h0M878.8 1122.5h0M964.0 985.0h0M1066.0 979.5h0M1087.0 955.4h0M846.6 1105.9h0M1177.4 877.3h0M1102.9 975.3h0M1500.8 1130.4h0M1000.6 750.2h0M1243.0 1114.7h0M1424.3 645.8h0M1020.0 668.0h0M1254.5 629.4h0M939.7 879.5h0M1352.7 650.2h0M1328.4 590.5h0M1198.4 877.5h0M1137.7 978.4h0M1245.4 1119.9h0M1357.1 716.7h0M1366.4 348.5h0M1469.2 675.3h0M1349.4 708.9h0M1155.1 857.5h0M1312.0 752.7h0M1176.1 838.8h0M1076.7 783.4h0M1277.5 244.1h0M1412.5 629.0h0M1413.0 672.4h0M987.7 644.6h0M1595.6 885.4h0M1020.2 1099.9h0M1192.0 837.9h0M1203.0 317.0h0M1166.6 807.0h0M1600.4 832.8h0M968.0 990.0h0M1114.6 951.2h0M980.1 833.3h0M1141.5 836.0h0M1439.3 683.4h0M1396.1 731.7h0M1338.7 656.0h0M1567.3 869.3h0M1007.5 970.4h0M1305.0 1174.1h0M1231.8 884.3h0M1282.3 1131.1h0M1342.4 773.2h0M1238.0 884.7h0M882.7 571.3h0M997.6 686.7h0M1117.3 941.7h0M1180.3 823.9h0M1275.5 716.8h0M1011.8 1091.1h0M827.3 1091.0h0M1214.7 817.1h0M1358.8 361.3h0M1366.0 543.0h0M1362.2 347.4h0M753.9 1100.8h0M1256.4 319.9h0M1250.3 1106.7h0M978.7 640.7h0M1022.7 628.3h0M1030.3 1020.2h0M1503.4 497.8h0M950.9 1134.0h0M1051.0 417.0h0M714.5 980.0h0M1313.7 608.4h0M1191.2 911.1h0M1365.0 816.0h0M1293.4 709.1h0M684.5 1075.6h0M880.7 1216.7h0M1076.5 989.7h0M1256.0 317.7h0M1365.2 925.4h0M1244.4 361.6h0M760.5 1017.6h0M1209.3 581.4h0M1442.8 951.7h0M1405.5 640.5h0M953.4 820.9h0M1240.1 755.9h0M1597.5 819.3h0M1059.7 789.7h0M1036.7 705.1h0M1029.8 978.1h0M1320.1 728.6h0M1059.8 778.2h0M879.7 1115.0h0M1383.0 590.4h0M1294.8 290.8h0M1116.2 979.6h0M1381.8 663.2h0M1348.3 602.3h0M1463.8 488.8h0M1344.4 770.5h0M1292.0 329.0h0M1349.4 719.2h0M1065.4 1108.2h0M1208.0 868.7h0M1208.2 261.6h0M1433.9 619.9h0M1376.5 971.6h0M1413.0 729.0h0M1304.9 608.8h0M1078.9 1006.8h0M1056.8 447.0h0M1346.0 998.9h0M1013.5 922.9h0M1216.1 862.2h0M1431.0 507.0h0M1325.2 542.9h0M1320.7 406.6h0M834.2 1085.9h0M1202.7 876.1h0M1035.6 1000.8h0M946.0 789.6h0M1366.6 699.6h0M723.0 995.5h0M1315.9 268.7h0M824.7 1086.8h0M1549.6 823.7h0M1248.2 1102.7h0M1006.7 717.2h0M1139.1 552.4h0M729.7 933.5h0M1253.3 1114.5h0M1123.9 961.6h0M1197.7 807.5h0M1229.0 324.5h0M966.3 709.4h0M1432.3 952.5h0M1404.8 956.8h0M1238.3 1010.2h0M1169.7 781.2h0M1072.1 1107.6h0M1316.0 1144.6h0M1132.0 596.0h0M991.6 690.0h0M1238.7 1103.7h0M1305.9 324.9h0M1147.0 732.3h0M1430.3 640.3h0M1379.0 928.0h0M1383.5 648.2h0M900.2 1056.3h0M1416.1 598.2h0M1011.7 826.0h0M1342.8 580.9h0M762.7 946.3h0M864.6 554.6h0M1335.4 738.2h0M1288.0 258.0h0M1048.4 435.6h0M1148.1 806.6h0M1398.9 724.0h0M1310.3 543.7h0M1031.5 791.3h0M719.0 992.9h0M1181.2 860.3h0M1241.2 364.7h0M1403.2 608.2h0M1440.9 500.5h0M1285.3 290.2h0M1069.9 293.6h0M1373.0 585.1h0M1020.1 920.7h0M1021.8 924.1h0M1082.7 970.8h0M1176.9 893.5h0M1268.1 739.6h0M1148.9 581.7h0M1169.7 911.6h0M1248.1 757.9h0M1225.5 853.7h0M708.4 977.2h0M979.5 849.6h0M1372.3 507.0h0M1401.9 658.2h0M1306.9 664.2h0M1232.9 825.0h0M1145.2 831.5h0M734.0 1009.5h0M1315.8 280.8h0M875.8 1107.5h0M1345.8 1004.4h0M986.3 722.9h0M1228.8 1058.2h0M1159.9 1039.4h0M1392.8 734.6h0"/><path stroke="#f2625d" d="M945.6 819.1h0M1303.8 610.9h0M1403.1 684.4h0M1199.7 888.1h0M897.4 599.4h0M979.6 746.3h0M1188.0 860.4h0M984.4 662.2h0M1337.4 410.8h0M1718.6 854.0h0M980.7 637.9h0M992.6 1006.1h0M1438.9 650.0h0M1025.0 709.3h0M1226.7 1078.9h0M1342.1 377.6h0M1132.0 303.0h0M1333.0 948.4h0M1504.7 1148.8h0M1465.2 483.5h0M1031.4 711.5h0M883.9 967.4h0M1308.9 659.6h0M1269.1 1047.8h0M1212.3 204.4h0M1320.2 393.7h0M754.3 1022.0h0M1084.5 579.3h0M834.5 1123.8h0M1040.8 435.6h0M1147.0 929.0h0M1207.3 827.7h0M752.0 1006.9h0M1665.8 866.9h0M1069.2 813.4h0M1223.1 869.8h0M896.3 735.1h0M1356.0 917.3h0M1314.9 323.6h0M970.2 1097.4h0M1176.1 901.6h0M1357.6 938.1h0M1533.5 812.8h0M1337.6 380.5h0M1319.1 382.5h0M1017.3 408.5h0M1174.0 1039.0h0M1187.3 918.2h0M1276.0 335.0h0M1400.8 618.9h0M1342.8 651.8h0M1146.6 274.6h0M1273.2 634.2h0M1303.4 258.9h0M1180.5 923.8h0M1036.1 756.1h0M1008.9 1035.4h0M949.0 1029.0h0M990.1 677.5h0M1397.2 652.6h0M1242.8 1112.0h0M1013.1 1092.3h0M1020.2 966.1h0M937.5 884.1h0M811.4 1087.6h0M1151.4 321.9h0M1239.1 838.9h0M1297.4 623.7h0M985.6 829.3h0M1226.3 867.5h0M1007.2 795.5h0M762.4 1022.4h0M1006.0 967.6h0M1039.4 698.7h0M1044.3 689.2h0M897.2 1207.7h0M1540.3 474.7h0M1232.2 1057.4h0M1499.0 1165.0h0M1208.5 1001.7h0M793.9 986.7h0M893.2 1222.2h0M986.5 994.2h0M1025.5 399.1h0M1179.2 298.7h0M1208.6 255.1h0M1186.9 321.9h0M1621.9 890.7h0M1026.0 650.0h0M1324.6 410.9h0M1456.8 956.4h0M1337.1 396.5h0M1039.9 1100.6h0M1146.0 1037.0h0M1378.9 626.1h0M1253.4 238.3h0M1035.5 974.0h0M1191.3 240.8h0M897.0 1141.0h0M687.1 1082.3h0M989.1 716.0h0M833.0 1126.1h0M1239.3 868.9h0M1474.4 665.6h0M1464.0 1185.0h0M832.2 1125.0h0M1095.6 793.4h0M1113.2 961.6h0M1281.4 709.0h0M1319.4 320.0h0M1331.3 965.9h0M1284.0 255.0h0M1257.3 746.7h0M1508.9 1069.0h0M1355.0 560.0h0M1263.0 1101.0h0M1149.5 322.1h0M1441.9 960.4h0M1058.1 1111.2h0M1438.6 638.5h0M1037.0 850.0h0M1511.8 1065.7h0M1431.0 670.8h0M1031.7 855.6h0M1262.0 1033.2h0M1311.0 375.0h0M1175.0 303.0h0M1001.5 1033.1h0M1022.3 403.6h0M1275.4 410.0h0M1468.6 1058.4h0M1258.5 620.3h0M1463.7 487.0h0M954.0 837.2h0M1317.4 637.4h0M1057.0 806.8h0M1191.7 928.7h0M1369.0 545.0h0M1205.0 665.0h0M682.1 1084.7h0M718.3 988.8h0M993.3 723.2h0M1367.7 279.2h0M1294.6 1151.8h0M1169.5 791.9h0M1670.3 906.9h0M1365.2 647.4h0M866.0 978.8h0M848.0 1197.0h0M1034.5 733.6h0M947.8 713.2h0M1343.3 620.5h0M1010.9 1038.3h0M1177.1 855.8h0M1380.2 588.0h0M1281.8 243.6h0M1502.5 1136.9h0M1149.0 305.6h0M1090.3 833.0h0M1161.4 321.1h0M1448.7 498.2h0M1298.9 678.6h0M1245.8 1029.5h0M1713.0 883.9h0M1201.8 271.5h0M1342.6 638.3h0M1246.3 875.1h0M998.3 1016.1h0M1131.6 977.4h0M1207.9 828.8h0M741.8 1007.6h0M1027.5 726.9h0M1291.4 1193.1h0M1211.1 255.6h0M968.2 1199.2h0M891.8 977.7h0M1209.5 1025.9h0M1010.4 730.3h0M899.2 1208.2h0M1365.7 654.8h0M1020.9 794.3h0M1393.0 630.0h0M1409.0 956.9h0M1409.4 595.5h0M1255.0 809.4h0M1522.6 1047.4h0M1294.0 253.0h0M1063.9 830.5h0M1181.6 292.9h0M909.4 1045.8h0M1312.8 328.6h0M1387.1 964.1h0M1003.8 735.9h0M950.6 729.7h0M1084.1 970.8h0M1309.4 595.9h0M1168.6 429.3h0M1252.4 349.0h0M1165.9 950.8h0M1322.2 587.3h0M998.5 694.2h0M1029.0 393.2h0M1701.5 860.2h0M981.7 660.8h0M1243.4 1111.1h0M1238.9 1031.2h0M1177.9 912.0h0M755.6 1017.2h0M979.8 657.9h0M1364.3 915.1h0M1409.5 599.2h0"/><path stroke="#f66c5c" d="M1147.3 597.9h0M1178.9 546.2h0M1330.2 951.0h0M1021.2 401.3h0M1248.2 1114.8h0M1043.7 991.0h0M1160.0 1038.0h0M1688.5 843.3h0M1250.5 238.3h0M1337.5 679.5h0M1028.0 1025.3h0M1443.9 640.5h0M942.5 684.9h0M892.6 1223.1h0M1417.0 674.6h0M1186.7 898.5h0M1221.6 876.6h0M1162.2 221.5h0M1492.8 1082.5h0M1202.7 884.4h0M977.4 662.6h0M1254.4 613.4h0M1355.8 931.5h0M1390.7 636.8h0M1392.0 717.5h0M1149.0 649.0h0M972.5 782.9h0M1205.5 585.1h0M1527.2 482.7h0M978.4 636.8h0M1359.6 923.3h0M1211.4 271.0h0M1200.2 1051.7h0M1342.3 364.6h0M1197.1 319.5h0M1272.4 771.1h0M1245.6 368.3h0M1148.0 325.0h0M1639.4 873.2h0M1076.9 993.1h0M1415.6 624.6h0M1518.4 1061.2h0M938.5 850.5h0M816.1 1095.3h0M1308.3 326.1h0M1248.0 334.6h0M1221.3 915.0h0M1249.9 837.2h0M1331.7 392.5h0M1027.9 1096.8h0M998.0 669.0h0M943.3 891.2h0M1089.4 1102.0h0M1352.7 728.4h0M1232.1 366.0h0M1422.0 955.7h0M1455.1 1108.3h0M1333.3 382.0h0M1420.2 694.2h0M1312.5 753.8h0M942.7 764.1h0M1342.2 703.6h0M966.2 700.0h0M1142.0 624.8h0M1202.1 275.2h0M1369.6 659.1h0M1134.8 827.1h0M1235.9 1111.7h0M1366.4 277.9h0M1238.8 1100.9h0M1233.8 859.9h0M1281.0 1163.0h0M1528.3 481.7h0M1122.2 819.3h0M1081.0 966.8h0M1167.5 431.2h0M1221.5 1094.7h0M972.8 655.2h0M713.0 987.6h0M861.6 979.6h0M1305.6 777.9h0M1267.9 1033.6h0M1293.8 643.6h0M1007.1 735.1h0M1068.7 1105.3h0M1186.0 899.6h0M1217.5 916.8h0M951.5 1193.8h0M1571.8 867.8h0M1421.0 1098.1h0M1277.1 1017.1h0M1110.0 967.0h0M969.6 756.4h0M706.6 992.2h0M1364.8 644.2h0M1323.7 409.1h0M1167.1 320.5h0M1375.9 326.2h0M1408.2 666.6h0M1042.9 1104.5h0M867.8 1117.6h0M1045.9 437.0h0M1006.1 763.3h0M900.1 729.2h0M1083.2 798.9h0M856.5 1101.5h0M1048.1 426.9h0M813.0 1101.7h0M902.5 1054.4h0M1381.8 658.0h0M1370.6 547.6h0M1250.5 1116.4h0M1269.4 784.0h0M1046.6 439.5h0M1168.9 321.1h0M1120.3 942.9h0M982.9 645.6h0M1406.8 706.1h0M1177.8 297.3h0M1426.2 601.7h0M1385.3 685.9h0M1194.9 891.8h0M1153.5 1042.6h0M1191.7 910.7h0M1297.1 720.9h0M1478.0 1092.1h0M823.4 1085.5h0M1013.0 1043.6h0M1497.3 498.7h0M1131.7 401.5h0M1154.0 419.1h0M1336.6 564.5h0M1211.3 1010.9h0M1236.8 1110.6h0M1278.4 243.7h0M1500.4 1143.9h0M1404.0 617.3h0M1091.6 300.6h0M805.3 1015.9h0M1210.0 268.4h0M1347.0 362.7h0M1433.5 949.9h0M1234.4 901.2h0M1364.2 911.8h0M1244.5 876.1h0M899.9 1060.2h0M1101.2 953.6h0M1304.3 726.5h0M942.2 849.8h0M878.2 1229.3h0M970.2 645.7h0M1365.0 528.0h0M1235.9 815.1h0M1142.6 954.0h0M1372.7 607.9h0M1245.0 1165.4h0M1185.4 277.7h0M1201.1 905.4h0M1066.2 770.6h0M1248.5 235.5h0M1362.1 612.0h0M1337.5 719.8h0M975.2 691.1h0M1437.8 615.3h0M1527.7 481.6h0M1203.2 258.4h0M991.1 681.7h0M1195.3 321.8h0M1370.5 501.4h0M1210.0 269.3h0M1044.4 1103.1h0M1072.0 673.0h0M1153.6 811.2h0M818.0 1081.3h0M1359.9 972.1h0M1152.0 929.0h0M1321.9 256.2h0M1294.2 1193.6h0M1208.6 1059.4h0M1040.5 669.5h0M1026.8 849.6h0"/><path stroke="#f9785d" d="M1145.0 971.6h0M937.0 969.0h0M1120.9 389.2h0M739.0 927.0h0M1056.8 1111.8h0M798.2 1121.8h0M1626.9 893.4h0M734.6 936.3h0M1283.1 1125.9h0M905.0 704.0h0M1146.8 553.1h0M974.0 1086.0h0M1137.4 620.9h0M942.5 1195.8h0M1101.6 871.6h0M1339.9 561.5h0M1326.0 728.3h0M1466.0 1112.0h0M812.6 1171.9h0M1083.4 575.6h0M1248.4 1047.0h0M960.0 1137.4h0M1726.7 877.6h0M1311.6 801.0h0M1460.4 646.5h0M990.3 708.0h0M1164.1 947.7h0M1152.0 1035.0h0M1083.0 927.0h0M1023.6 315.4h0M1559.0 832.0h0M1361.7 588.4h0M1429.6 499.4h0M1269.0 321.8h0M756.7 957.1h0M1298.2 293.8h0M1004.0 1228.0h0M929.0 709.0h0M1072.4 1106.4h0M1203.2 805.5h0M1211.4 207.3h0M1042.0 423.9h0M1023.5 405.9h0M1229.7 314.0h0M1266.1 750.0h0M1366.0 526.4h0M810.4 1171.3h0M900.0 1121.4h0M1093.6 567.9h0M1062.5 783.6h0M937.0 1107.6h0M1126.4 836.1h0M1237.7 871.6h0M1351.9 927.6h0M905.6 746.0h0M1273.1 640.7h0M1165.8 327.2h0M1229.1 1106.2h0M1177.2 317.6h0M1104.6 352.0h0M1207.3 579.1h0M1422.6 1102.3h0M1265.4 548.3h0M1354.0 339.4h0M1009.2 1094.6h0M981.1 854.4h0M1341.8 398.0h0"/><path stroke="#fb835f" d="M1351.4 365.6h0M1254.5 316.1h0M1356.7 275.1h0M1406.1 963.0h0"/><path stroke="#fc8e64" d="M892.3 1228.5h0M1154.3 419.3h0"/><path stroke="#fd9a6a" d="M1349.0 357.0h0"/><path stroke="#fea571" d="M1438.5 952.0h0"/><path stroke="#feb078" d="M1426.2 708.8h0"/><path stroke="#f9785d" d="M1236.8 1043.8h0M1099.6 788.9h0M1220.0 238.4h0M1154.7 856.9h0M1246.7 1110.3h0M1287.7 1196.0h0M826.2 1122.8h0M1054.8 1108.6h0M1225.3 1075.5h0M1531.0 816.7h0M1435.0 946.7h0M1302.4 279.9h0M1259.0 628.3h0M1326.3 658.2h0M1102.3 576.2h0M933.6 872.7h0M1327.1 390.8h0M1214.1 919.3h0M1671.8 843.4h0M1362.0 526.0h0M1185.8 274.8h0M1012.9 1100.0h0M1069.0 1109.4h0M1100.5 754.8h0M1151.9 421.9h0M1327.7 548.1h0M1147.2 858.8h0M1305.6 738.4h0M987.7 688.4h0M1393.3 665.5h0M1356.4 351.3h0M1355.7 362.7h0M1345.3 948.3h0M1202.0 326.8h0M1147.6 565.7h0M815.0 1170.5h0M1230.9 1081.4h0M952.7 682.8h0M1425.8 612.1h0M1228.3 319.7h0M737.2 1014.8h0M742.7 1019.2h0M1328.2 548.4h0M1163.7 218.8h0M1498.9 1127.0h0M1237.0 1047.0h0M1230.0 319.7h0M1236.6 1017.2h0M1042.1 674.2h0M1397.7 644.6h0M1076.5 759.0h0M1254.7 1110.0h0M745.0 1101.1h0M1442.8 710.6h0M1064.2 785.7h0M1253.3 309.2h0M1362.4 570.0h0M1463.5 651.0h0M1333.8 756.2h0M1653.4 878.1h0M1297.1 708.0h0M1178.7 900.2h0M1317.7 1188.6h0M1057.1 761.7h0M1019.5 815.6h0M1175.0 871.5h0M1108.7 985.5h0M1352.5 935.1h0M1529.3 823.0h0M1196.1 878.1h0M1280.8 1004.7h0M1306.8 266.1h0M1110.9 976.9h0M1227.0 366.0h0M1351.5 944.5h0M1316.2 264.0h0M1346.8 368.9h0M967.9 701.3h0M1736.3 891.7h0M1068.8 955.4h0M873.0 977.1h0M1262.6 660.4h0M1288.7 1151.6h0M1223.1 848.7h0M1195.2 883.0h0M1201.3 1057.3h0M1321.5 641.8h0M1187.8 436.6h0M1456.8 642.4h0M1420.9 952.3h0M1015.3 739.1h0M1331.1 1187.5h0M1381.3 967.2h0M948.2 831.1h0M1437.1 952.5h0M1422.3 1102.3h0M1190.8 913.9h0M1245.0 625.2h0M944.7 808.8h0M1047.6 1104.8h0M1372.3 970.6h0M1310.8 265.3h0M1207.7 200.1h0M1153.3 1044.1h0M940.5 857.8h0M1151.6 323.9h0M1043.2 439.2h0M1280.0 245.9h0M1461.2 486.5h0M1006.4 857.9h0M1278.3 781.4h0M1159.3 1039.0h0M1216.3 1048.7h0M975.2 866.2h0M1061.0 302.7h0M1311.7 323.6h0M1319.7 282.1h0M357.7 1062.4h0M1212.4 259.1h0M1164.3 885.2h0M1291.1 672.8h0M1427.1 651.0h0M1307.1 748.0h0M1090.5 566.4h0M831.0 1130.1h0M1452.4 627.4h0M1318.9 384.1h0M1333.7 393.2h0M790.3 900.3h0M1179.1 892.6h0M1523.8 816.0h0M898.5 734.0h0M899.3 1206.7h0M1326.3 776.5h0M1380.7 836.1h0M834.0 1079.0h0M1243.5 309.6h0M1039.5 719.2h0M1248.9 830.9h0M1052.8 1105.6h0M1064.4 594.5h0M1209.0 209.6h0M1039.3 663.3h0M1272.0 293.8h0M910.1 1050.7h0M1206.5 843.4h0M1300.8 1197.7h0M1014.9 1095.2h0M1243.5 1115.1h0M1048.4 434.7h0M1362.5 348.7h0M1327.3 397.4h0M936.4 1147.3h0M1152.0 597.2h0M1336.0 557.5h0M1207.4 201.1h0M877.8 1109.5h0M727.4 998.3h0M1236.5 1000.3h0M1236.2 322.5h0M1027.7 1098.7h0M1270.5 602.2h0M1487.6 1080.6h0M1497.5 1133.5h0M1449.5 648.2h0M1006.5 784.1h0M1348.2 369.7h0M1298.3 752.3h0M1244.5 626.9h0M1179.6 908.2h0M1387.2 711.1h0M1286.6 1197.4h0M1026.2 962.3h0M1364.1 291.2h0M1143.9 597.6h0M1347.7 368.2h0M1336.8 610.6h0M1166.5 320.8h0M1248.1 628.2h0M1263.1 313.9h0M1238.1 1107.8h0M1221.5 1033.8h0M1249.2 1028.8h0M798.4 977.8h0M1047.0 425.8h0M1096.6 1106.2h0M1212.2 1048.0h0M733.0 1001.5h0M1204.6 273.5h0M796.2 1079.5h0M725.1 993.8h0M1172.9 319.5h0M1433.1 725.3h0M1537.3 815.3h0M1361.7 924.8h0M882.0 1230.6h0M1193.0 447.3h0M1204.9 196.6h0M1438.3 948.9h0M1416.3 956.0h0M887.9 1137.6h0M1542.6 822.4h0M1362.1 285.5h0M1025.5 403.0h0M708.4 989.9h0M1257.5 620.9h0M1368.7 762.5h0M1356.1 292.0h0M804.6 1117.8h0M1278.7 1045.3h0M1138.6 551.2h0M1526.7 817.3h0M1141.7 1044.5h0M1650.2 905.6h0M1233.2 883.0h0M1309.8 279.2h0M1233.1 1037.2h0M1325.8 386.2h0M1263.6 294.2h0M1030.3 1103.6h0M1151.7 318.6h0M1450.9 497.4h0M1252.6 631.8h0M1073.0 670.0h0M1198.2 904.4h0M1064.0 410.0h0M1095.8 911.6h0M1348.1 565.5h0M1069.9 1006.5h0M1321.8 399.8h0M1528.2 815.1h0M1311.0 256.2h0M1319.7 398.9h0M1045.1 427.2h0M944.6 828.6h0M1381.8 833.1h0M1374.3 322.1h0M978.9 1017.8h0M1038.8 436.5h0M1235.9 995.5h0M1235.4 368.1h0M1216.6 1000.0h0"/><path stroke="#fb835f" d="M1256.2 319.1h0M1305.0 1147.6h0M1015.4 718.9h0M1007.1 822.5h0M1270.0 1044.4h0M889.5 734.8h0M1127.0 560.0h0M1202.5 254.1h0M1365.0 546.0h0M1204.0 517.0h0M1448.5 951.8h0M1173.9 1046.0h0M1218.5 862.8h0M1356.1 359.6h0M1135.5 610.6h0M1325.5 256.1h0M1020.8 928.5h0M1428.0 1088.0h0M1009.1 823.4h0M1268.7 294.8h0M1113.0 301.6h0M1299.4 289.1h0M1038.4 1099.4h0M1170.0 1045.0h0M1215.2 271.4h0M1478.9 1087.2h0M1254.3 330.0h0M746.5 1014.2h0M1242.0 549.0h0M1479.0 1070.0h0M1664.0 888.0h0M1028.4 765.7h0M1326.6 1187.5h0M1145.0 1044.9h0M1168.3 1048.6h0M1184.3 284.2h0M1254.6 1012.5h0M1365.7 928.8h0M1260.0 337.3h0M1409.5 704.9h0M1327.3 263.2h0M1489.0 1157.0h0M1319.7 256.9h0M1291.2 1009.4h0M1157.4 318.0h0M1106.1 570.8h0M1041.7 1030.3h0M911.0 1114.0h0M1342.9 648.8h0M1039.4 960.1h0M1309.3 797.4h0M353.0 1059.1h0M1419.9 734.6h0M1065.9 955.0h0M1186.3 442.0h0M1339.6 409.6h0M903.4 1061.7h0M977.4 602.0h0M1610.9 845.8h0M1060.0 411.4h0M1330.4 682.1h0M1161.4 220.3h0M1284.1 289.1h0M1314.0 781.0h0M368.2 1070.6h0M1699.6 899.4h0M1341.0 565.1h0M1295.0 685.2h0M1195.1 1055.1h0M1349.6 719.6h0M1193.9 270.4h0M1000.3 826.4h0M1538.5 816.6h0M1206.1 1001.5h0M949.1 891.3h0M1331.3 407.6h0M824.3 1094.1h0M1262.0 323.9h0M1328.1 380.8h0M1225.0 313.2h0M1547.7 820.2h0M829.9 1104.4h0M1062.1 1109.4h0M1632.7 898.1h0M1391.6 659.3h0M1336.0 996.4h0M922.0 1121.4h0M1148.5 580.1h0M1073.5 946.5h0M918.3 1156.0h0M1025.4 920.4h0M1242.2 1120.4h0M1454.0 957.3h0M1233.0 876.7h0M1142.0 1089.0h0M962.0 675.0h0M1242.2 1113.0h0M1092.0 808.1h0M1238.5 811.2h0M1338.6 1003.7h0M1159.5 322.4h0M1239.6 309.5h0M1309.7 268.0h0M1490.0 511.0h0M1193.4 272.9h0M1328.0 398.6h0M1064.7 1108.6h0M1197.0 512.0h0M1256.6 328.8h0M889.4 587.0h0M1202.0 584.0h0M1319.6 1104.0h0M1160.1 889.4h0M1327.7 377.4h0M1319.0 542.6h0M1242.1 1109.5h0M885.0 1220.0h0M1082.7 1101.1h0M1420.4 953.2h0M940.0 683.0h0M1340.2 705.9h0M1275.5 1044.6h0M1272.5 1006.6h0M1278.0 1166.0h0M1331.7 996.8h0M1219.6 842.2h0M1421.8 949.6h0M1270.1 293.8h0M1236.8 1110.8h0M1235.3 764.9h0M1101.1 969.7h0M1174.1 298.3h0M1101.8 850.1h0M938.3 881.0h0M1340.9 397.6h0M1343.6 760.6h0M1352.2 356.1h0M1211.9 879.0h0M1253.0 577.0h0M1338.1 405.3h0M1238.8 881.6h0M1084.4 1107.8h0M1407.7 960.5h0M1403.0 961.7h0M1368.2 499.7h0M1027.4 655.0h0M1300.4 390.6h0M1327.2 411.2h0M1345.2 367.3h0M1038.4 1101.7h0M808.3 1032.7h0M1239.4 1091.6h0M1262.0 314.1h0M1363.6 908.0h0M773.4 963.4h0M1064.0 1109.4h0M1314.9 397.6h0M1002.0 353.6h0M1397.1 965.0h0M964.8 769.6h0M940.6 1195.4h0M827.3 1073.5h0M1102.3 572.7h0M1385.7 857.7h0M890.6 977.3h0M1450.5 955.0h0M1214.8 214.6h0M1298.4 1160.5h0M1096.5 569.9h0M1206.8 877.3h0M1203.5 255.0h0M1351.0 807.4h0M1409.3 659.1h0M1335.3 655.5h0M1304.0 660.9h0M1434.8 953.5h0M1341.0 1000.3h0M1215.8 260.0h0M1341.4 690.6h0M1222.4 1156.6h0M1364.6 924.2h0M1187.1 883.0h0M1169.3 1046.2h0M1331.4 392.4h0M1448.6 955.4h0M1117.0 972.7h0M807.7 878.3h0M1617.3 875.1h0M1204.9 1002.4h0M1339.1 384.3h0M1351.4 284.4h0M903.9 1062.4h0M1074.6 964.9h0M1070.1 983.1h0M1171.6 222.6h0M982.1 326.0h0M1320.5 401.5h0M797.5 1075.8h0M1319.0 993.0h0M1203.5 326.1h0M1095.9 908.0h0M1106.4 818.2h0M1241.6 324.5h0M1265.1 1000.1h0M1369.7 705.6h0M905.0 1064.9h0M914.0 1192.0h0M1049.9 1112.9h0M1252.9 326.1h0M1053.8 968.5h0M1159.5 427.1h0M1693.5 849.1h0M1205.4 581.2h0M911.6 699.4h0M906.7 1051.1h0M1313.3 543.0h0M1006.0 832.2h0M1445.6 948.6h0M1158.4 224.8h0M1633.0 917.0h0M1034.7 1101.0h0M1044.6 439.4h0M1268.6 1016.0h0M960.0 958.4h0M1232.9 1116.4h0M1049.4 1106.3h0M1262.9 333.1h0M1380.8 838.2h0M1119.2 391.1h0M1082.7 1105.2h0M987.8 641.3h0M1324.1 255.5h0M1269.5 551.0h0M1315.6 263.6h0M1371.8 972.0h0M1351.4 935.6h0M1340.3 370.9h0M1434.6 951.5h0M1430.0 1109.0h0M1194.1 906.2h0M1291.2 1191.3h0M1507.4 1068.5h0M1361.0 533.0h0M1306.0 1133.0h0M1283.6 283.0h0M1517.7 1058.9h0M1365.3 291.2h0M1238.5 1013.0h0M1001.4 774.5h0M1523.2 814.4h0M1152.3 422.2h0M1066.0 945.8h0M1486.5 1083.8h0M837.5 1101.9h0M1031.5 1035.2h0M1178.1 300.2h0M1041.7 1105.5h0M1288.3 1201.0h0M1313.9 253.6h0M1066.7 1109.2h0M1142.7 623.8h0M1207.1 264.0h0M1179.1 864.7h0M1317.3 257.1h0M1311.5 324.6h0M1437.3 954.4h0M1278.3 746.1h0M1355.6 348.0h0M1200.8 1054.7h0M1340.0 1190.6h0M1546.7 822.5h0M1341.0 1006.8h0M1237.5 368.0h0M1201.6 857.6h0M880.0 1173.0h0M1002.4 824.9h0M884.0 1163.6h0M1140.0 671.1h0M1426.5 954.0h0M902.4 1089.0h0M1146.8 319.1h0M1043.2 674.2h0M1225.6 1036.8h0M945.2 827.9h0M1313.4 985.6h0M1204.6 609.0h0M1317.6 254.0h0M1034.0 995.1h0M1070.4 590.7h0M1382.2 834.2h0M1535.9 816.6h0M1037.8 433.1h0M1067.7 585.9h0M1359.8 930.2h0M1363.0 524.0h0M1339.0 383.4h0M1229.9 1021.5h0M1015.3 779.3h0M1269.8 1045.9h0M760.9 1025.6h0M1245.5 626.3h0M1099.0 664.0h0M1226.6 793.2h0M1337.6 1188.9h0M1428.3 647.1h0"/><path stroke="#fc8e64" d="M1524.4 1053.0h0M1312.0 325.7h0M1307.1 262.3h0M1075.6 584.8h0M1309.4 543.5h0M815.0 912.0h0M1309.4 260.4h0M1343.1 999.3h0M1401.8 966.5h0M1106.5 574.0h0M1014.3 1095.9h0M1141.0 628.0h0M1245.8 319.6h0M1324.7 363.8h0M817.7 1169.4h0M1209.2 1051.6h0M1146.6 318.2h0M989.4 324.1h0M1220.2 1047.6h0M937.6 845.4h0M1544.1 819.0h0M1417.7 632.8h0M1407.2 960.1h0M1359.3 274.7h0M1535.3 819.7h0M1291.3 1152.3h0M991.2 318.9h0M1110.1 950.2h0M1363.9 345.7h0M774.0 919.4h0M797.4 1114.1h0M1469.0 1117.6h0M1292.4 1192.7h0M1424.3 953.9h0M1240.3 1111.7h0M1478.4 525.0h0M1183.6 545.3h0M1441.8 696.1h0M1000.9 827.9h0M1246.1 1052.8h0M1057.5 793.1h0M972.2 801.1h0M1198.0 923.3h0M1689.0 836.6h0M1196.3 318.8h0M1063.8 955.4h0M1169.2 895.1h0M1400.7 954.4h0M1340.6 367.4h0M912.2 1044.7h0M1333.8 381.9h0M1588.0 860.0h0M1728.0 861.0h0M1526.2 815.7h0M1440.1 705.3h0M1318.0 1001.0h0M1139.0 918.0h0M1368.2 328.0h0M1245.2 1106.3h0M1360.4 355.8h0M1333.4 1007.3h0M1337.5 380.8h0M895.0 1102.6h0M1290.5 1144.6h0M1207.7 252.1h0M1498.4 498.7h0M1311.8 324.4h0M1368.7 348.1h0M1422.9 955.3h0M1259.2 617.6h0M1335.9 361.9h0M1153.1 1048.3h0M786.0 889.0h0M1257.2 310.9h0M1133.0 624.0h0M1254.0 433.0h0M1491.0 1154.0h0M1313.5 328.7h0M1334.0 402.4h0M1233.0 460.0h0M1323.2 268.5h0M1072.1 972.6h0M1239.7 322.0h0M1051.0 961.3h0M1247.4 237.0h0M1146.8 1042.9h0M932.6 859.6h0M1370.7 327.7h0M1415.7 960.0h0M906.0 1053.1h0M1046.7 667.0h0M1396.5 580.3h0M1522.3 1062.8h0M1301.3 280.2h0M1350.2 285.3h0M1040.1 1018.5h0M1263.7 314.8h0M904.9 1048.1h0M1348.0 566.6h0M966.2 780.7h0M1201.0 338.0h0M1296.1 1148.2h0M1455.4 960.8h0M1209.7 581.1h0M1021.7 743.7h0M1256.6 1025.6h0M1296.4 1202.0h0M1002.6 828.9h0M904.0 1057.9h0M900.4 1063.2h0M1368.1 977.0h0M986.0 820.1h0M1256.0 658.0h0M1437.9 951.3h0M1154.8 558.6h0M1326.2 382.4h0M1147.0 550.8h0M1244.1 1113.6h0M1236.1 629.1h0M1228.0 356.0h0M1631.0 914.0h0M1233.8 322.6h0M1312.3 323.4h0M1326.9 382.3h0M1159.4 1048.3h0M1609.0 923.0h0M1352.5 360.3h0M1326.5 265.3h0M1221.2 371.2h0M1280.0 771.0h0M1445.0 776.0h0M1206.4 1012.8h0M1120.4 986.7h0M1325.5 277.7h0M1374.5 973.1h0M807.1 1121.3h0M1240.4 1108.2h0M1672.6 893.1h0M1323.2 267.8h0M1359.5 347.3h0M1241.2 1039.1h0M1165.6 324.5h0M1347.4 532.4h0M909.8 1038.8h0M810.1 1115.9h0M1227.4 234.0h0M1413.3 629.0h0M1333.3 996.0h0M1733.0 862.0h0M1318.6 257.7h0M1231.7 314.1h0M1047.3 704.6h0M1446.8 953.6h0M1009.4 1097.4h0M1062.0 656.0h0M1169.0 593.0h0M1360.6 291.2h0M1049.6 430.2h0M1215.7 1002.7h0M1536.4 476.0h0M977.2 733.2h0M886.1 1220.2h0M1447.6 950.5h0M1200.5 257.7h0M1045.3 662.3h0M1443.4 952.2h0M944.3 824.3h0M927.0 1153.6h0M1539.8 819.8h0M1253.3 335.8h0M1423.0 668.4h0M1567.4 831.4h0M1343.9 563.1h0M1206.2 1056.9h0M1600.8 891.3h0M1348.3 282.1h0M1208.1 587.4h0M1009.6 830.6h0M1205.5 1077.2h0M1030.6 711.6h0M1142.4 613.4h0M1170.3 899.6h0M911.7 1050.3h0M1172.7 911.1h0M901.4 1062.2h0M1104.0 562.4h0M1351.7 280.5h0M1425.0 1102.4h0M1342.0 1010.8h0M1604.3 830.4h0M1257.8 241.4h0M1357.6 361.8h0M1326.7 386.1h0M1503.1 1133.0h0M1207.1 258.4h0M903.0 1056.5h0M1168.0 321.0h0M1305.7 599.8h0M1199.0 295.6h0M1360.3 273.3h0M1714.0 881.0h0M1718.0 880.0h0M1239.8 308.7h0M1047.7 1109.1h0M1262.6 313.2h0M1201.3 1052.4h0M1159.0 843.5h0M1499.6 1084.4h0M1192.6 235.7h0M1044.6 973.3h0M1176.0 596.0h0M1183.3 900.7h0M1196.0 334.0h0M1263.6 544.9h0M1282.6 1128.4h0M1465.6 660.0h0M1033.0 740.5h0M1249.8 314.4h0M1500.0 1072.4h0M1280.6 1107.0h0M1217.4 627.6h0M1317.0 261.9h0M1206.6 256.3h0M1227.3 1076.3h0M1246.5 1119.7h0M1157.3 221.2h0M1167.8 429.1h0M1311.2 267.2h0M1048.2 669.8h0M741.2 1101.2h0M1349.0 357.1h0"/><path stroke="#fd9a6a" d="M1258.7 1021.1h0M1278.9 691.9h0M815.0 917.0h0M1367.0 326.4h0M1380.8 588.5h0M941.1 850.2h0M1261.5 312.4h0M1193.9 914.4h0M1337.8 395.5h0M1311.2 402.4h0M832.0 1104.4h0M1207.7 1041.8h0M1368.1 977.8h0M1066.8 1110.3h0M1199.4 1052.8h0M992.8 651.1h0M1427.4 945.1h0M1240.6 1116.6h0M1224.0 1041.0h0M1262.7 331.7h0M1105.4 577.5h0M819.6 1093.0h0M1225.2 314.5h0M1230.6 879.2h0M1260.1 741.9h0M1148.0 288.0h0M1297.2 1144.9h0M1535.6 816.5h0M1049.8 671.1h0M1340.0 364.4h0M1267.8 546.2h0M1360.5 350.8h0M1250.5 316.0h0M983.7 325.1h0M1087.1 974.0h0M1367.1 980.7h0M948.4 778.5h0M1335.1 995.5h0M1266.6 661.4h0M1319.5 270.2h0M1270.8 1045.5h0M1349.3 357.8h0M1152.9 424.2h0M981.2 691.0h0M1340.2 1003.3h0M1347.6 365.3h0M1666.7 867.1h0M890.8 965.7h0M844.0 1095.4h0M1309.9 254.3h0M1221.9 911.4h0M1362.5 346.5h0M1307.7 262.7h0M1020.6 923.9h0M1664.9 895.1h0M1295.4 628.0h0M1250.1 318.4h0M986.2 321.9h0M1258.2 298.5h0M1376.8 326.2h0M1161.3 430.7h0M1262.5 322.5h0M1337.4 394.6h0M1363.0 979.6h0M1365.2 717.3h0M1334.2 996.6h0M1229.0 1082.4h0M1321.5 631.1h0M1266.0 778.0h0M1189.4 450.8h0M1323.0 382.3h0M1390.6 661.4h0M1360.5 291.1h0M1362.8 274.0h0M1443.5 945.6h0M1317.7 268.7h0M1361.9 348.2h0M1160.4 426.5h0M1120.7 383.8h0M1307.1 1009.9h0M1040.7 434.7h0M1324.3 402.4h0M1169.5 317.8h0M1365.4 979.1h0M1369.9 327.4h0M1204.4 252.7h0M915.8 1162.1h0M836.2 1094.2h0M1337.3 366.4h0M1336.0 760.0h0M1310.2 256.9h0M1454.7 950.5h0M1265.1 1043.2h0M753.0 1098.5h0M1472.5 672.2h0M678.1 1083.5h0M1181.9 441.4h0M1207.6 1050.7h0M1329.9 259.0h0M1258.8 305.4h0M1239.7 1022.5h0M1426.7 954.4h0M1325.9 396.4h0M1500.1 1162.7h0M1307.2 251.2h0M1246.0 551.0h0M1261.7 296.8h0M1045.2 434.8h0M1199.3 900.2h0M974.9 737.4h0M727.1 988.1h0M1430.7 948.8h0M1211.9 260.1h0M1295.0 772.0h0M1350.7 280.3h0M1221.4 888.6h0M1219.6 1046.4h0M1390.3 965.3h0M1670.2 857.2h0M1434.5 947.9h0M1073.2 831.6h0M1364.3 582.9h0M745.1 1013.0h0M742.7 1095.9h0M1399.3 659.6h0M1688.3 862.7h0M808.0 858.6h0M995.3 324.0h0M984.1 324.0h0M1176.5 321.7h0M1218.9 1043.4h0M1329.3 368.4h0M1161.7 219.1h0M1294.5 1199.2h0M1235.8 318.1h0M1251.3 320.4h0M1233.6 1059.0h0M1411.7 960.3h0M831.2 1094.8h0M1169.9 878.3h0M1021.7 812.6h0M826.7 1076.2h0M1353.7 292.7h0M1206.0 232.4h0M1666.3 859.0h0M1357.5 282.0h0M995.7 324.3h0M1203.0 1065.2h0M1318.9 264.8h0M1339.1 364.8h0M1314.9 255.3h0M1231.3 323.7h0M995.1 659.0h0M904.1 1053.0h0M1365.9 982.8h0M1248.1 1041.8h0M1263.3 325.4h0M1453.1 956.6h0M749.5 1025.2h0M1178.3 292.7h0M1412.0 961.0h0M1328.0 397.2h0M1260.5 289.8h0M1418.7 957.2h0M1249.8 327.1h0M1637.0 916.4h0"/><path stroke="#fea571" d="M1160.0 883.0h0M1154.5 322.5h0M997.0 698.0h0M1163.1 948.9h0M1613.0 836.4h0M1317.0 380.3h0M947.2 1189.7h0M1437.6 1094.0h0M1228.4 1159.6h0M1313.7 326.0h0M995.0 1085.4h0M1338.4 401.9h0M878.0 755.6h0M1642.0 873.0h0M1226.0 673.0h0M1341.6 371.4h0M983.6 327.0h0M1164.7 218.2h0M1192.0 281.7h0M1155.0 317.7h0M1315.4 405.3h0M1309.1 400.6h0M1496.0 800.0h0M1313.7 543.0h0M358.1 1061.9h0M1200.3 261.3h0M1156.6 319.4h0M1266.3 642.8h0M1148.9 318.7h0M708.0 973.0h0M1361.2 350.9h0M1360.5 279.3h0M1327.6 275.6h0M1273.3 1030.4h0M1223.1 1084.1h0M1208.3 922.8h0M1343.9 366.9h0M1256.0 1126.0h0M1338.3 626.7h0M996.7 320.7h0M947.0 1098.0h0M1348.4 330.4h0M1209.8 874.6h0M1216.0 890.0h0M1353.9 275.1h0M682.7 1085.1h0M1179.3 296.9h0M820.9 1099.2h0M1047.0 667.3h0M1143.0 288.6h0M1357.7 354.7h0M1194.0 269.9h0M1112.6 846.7h0M1399.0 684.5h0M1305.6 1172.4h0M1362.2 348.6h0M1341.2 400.0h0M1353.5 927.0h0M1186.5 548.6h0M1259.0 1003.3h0M1217.2 1072.0h0M1625.0 869.0h0M1217.1 1046.5h0M1340.0 997.7h0M1332.9 1002.0h0M1501.7 1144.2h0M1276.0 1180.0h0M965.0 1123.6h0M1373.9 328.5h0M1251.2 1106.6h0M1285.0 1049.0h0M1331.4 391.3h0M1234.3 311.8h0M1562.0 858.3h0M1363.7 915.9h0M1203.6 1051.8h0M1339.5 368.0h0M1264.1 707.3h0M1365.4 275.5h0M1208.1 1078.7h0M1410.5 622.5h0M1369.4 939.4h0M1355.2 359.9h0M1040.4 674.6h0M1324.0 300.0h0M1502.5 1144.7h0M1445.0 948.2h0M1239.3 308.8h0M1078.4 949.6h0M1306.0 252.2h0M1431.7 637.3h0M1182.0 869.8h0M1312.5 269.1h0M1345.7 363.6h0M1087.3 954.8h0M1024.5 732.6h0M1318.3 403.5h0M986.0 722.0h0M1364.8 296.8h0M1219.9 1044.2h0M1329.6 260.6h0M1499.6 1137.0h0M1219.9 1052.7h0M1216.7 260.1h0M1119.2 384.5h0M1229.0 535.0h0M1351.0 357.5h0M1096.9 913.3h0M994.8 318.4h0M1342.3 399.4h0M1315.6 732.6h0M1346.5 364.8h0M1213.1 1030.6h0M1192.0 516.0h0M823.0 1084.0h0M1340.0 366.7h0M1245.0 866.0h0M1024.0 907.0h0M1299.0 1172.0h0M1366.8 350.0h0M894.6 732.3h0M1310.9 267.8h0M1381.8 832.4h0"/><path stroke="#feb078" d="M1046.1 1022.7h0M947.3 892.6h0M1323.8 258.0h0M1358.7 354.6h0M1246.3 995.1h0M1357.6 295.7h0M1163.9 322.0h0M1336.2 401.4h0M1202.0 510.0h0M1184.2 925.9h0"/><path stroke="#febb81" d="M1213.0 233.0h0M1275.5 1014.3h0M1153.0 284.0h0M1272.0 593.0h0M1269.0 1180.0h0M972.5 643.3h0"/><path stroke="#fec68a" d="M1236.0 1132.0h0M1324.0 547.0h0M1214.0 353.0h0M1000.0 1015.0h0M1393.0 616.0h0M1592.6 891.0h0M1148.6 552.0h0M796.0 865.0h0M1060.0 1110.0h0M1043.6 669.6h0M1304.0 834.4h0M1210.0 232.4h0M1071.0 954.0h0M1256.0 991.6h0M1295.0 1137.0h0M1274.0 588.0h0M1705.0 845.0h0M1213.0 343.0h0M1395.0 657.0h0M1025.0 917.0h0M1496.0 1079.4h0M937.0 867.0h0M1491.6 1141.6h0M965.0 934.0h0M829.0 1108.0h0M1072.0 1109.0h0M1421.0 629.0h0M819.0 1006.0h0M974.4 829.0h0M1200.0 509.0h0M1659.4 852.4h0M1358.6 949.0h0M1269.0 589.0h0"/><path stroke="#fed194" d="M894.0 736.0h0M1334.0 297.0h0M960.0 702.0h0M1362.0 305.4h0M1147.4 965.6h0M1110.0 956.0h0M1132.4 405.0h0M944.0 708.0h0M1327.0 1007.6h0M1319.0 679.0h0M952.6 650.6h0M1182.0 304.6h0M1343.0 296.0h0M1311.0 671.0h0M1327.6 279.4h0M1204.4 1044.4h0M1390.0 681.0h0M1267.0 592.0h0"/><path stroke="#fddc9e" d="M1160.0 1045.0h0M1377.0 574.0h0M1337.0 1001.0h0M1171.0 917.0h0M1280.6 1006.6h0M1211.6 256.6h0M1203.0 1088.0h0M1058.0 594.4h0M1226.0 1055.6h0M1109.6 582.4h0M1029.0 850.0h0M1046.4 744.0h0M1238.0 1136.0h0M1256.0 334.0h0M1350.0 1009.0h0M1298.6 266.0h0M1343.6 383.6h0"/><path stroke="#fde7a9" d="M1263.0 596.0h0M985.6 771.6h0M1350.0 999.0h0M1346.0 1010.0h0M1235.0 1130.0h0"/><path stroke="#fcf2b4" d="M1265.6 1019.0h0M1218.0 1047.0h0"/></g>
<!-- axes -->
<g stroke="#000" stroke-width="4.3" fill="none" stroke-linecap="butt">
<path d="M211.2 141V1309"/><path d="M209 1306.8H1867"/>
<path d="M416.7 1309v12M743.3 1309v12M1070 1309v12M1396.6 1309v12M1723.2 1309v12"/>
<path d="M209.1 362.9h-12.8M209.1 641.2h-12.8M209.1 919.4h-12.8M209.1 1197.7h-12.8"/>
</g>
<g font-size="53">
<text x="416.7" y="1370" text-anchor="middle" textLength="30" lengthAdjust="spacingAndGlyphs">0</text>
<text x="743.3" y="1370" text-anchor="middle" textLength="30" lengthAdjust="spacingAndGlyphs">5</text>
<text x="1071" y="1370" text-anchor="middle" textLength="61" lengthAdjust="spacingAndGlyphs">10</text>
<text x="1397.6" y="1370" text-anchor="middle" textLength="61" lengthAdjust="spacingAndGlyphs">15</text>
<text x="1723.2" y="1370" text-anchor="middle" textLength="61" lengthAdjust="spacingAndGlyphs">20</text>
<text x="182.5" y="381" text-anchor="end" textLength="61" lengthAdjust="spacingAndGlyphs">10</text>
<text x="182.5" y="659.3" text-anchor="end" textLength="30" lengthAdjust="spacingAndGlyphs">5</text>
<text x="182.5" y="937.5" text-anchor="end" textLength="30" lengthAdjust="spacingAndGlyphs">0</text>
<text x="182.5" y="1215.8" text-anchor="end" textLength="49" lengthAdjust="spacingAndGlyphs">-5</text>
<text x="2016.5" y="593" textLength="30" lengthAdjust="spacingAndGlyphs">3</text>
<text x="2016.5" y="695.7" textLength="30" lengthAdjust="spacingAndGlyphs">2</text>
<text x="2016.5" y="798.7" textLength="30" lengthAdjust="spacingAndGlyphs">1</text>
<text x="2016.5" y="901.2" textLength="30" lengthAdjust="spacingAndGlyphs">0</text>
</g>
<text x="1037.5" y="1436.3" font-size="61" text-anchor="middle" textLength="230" lengthAdjust="spacingAndGlyphs">umap_1</text>
<text transform="translate(94,725) rotate(-90)" font-size="61" text-anchor="middle" textLength="230" lengthAdjust="spacingAndGlyphs">umap_2</text>
<!-- legend -->
<rect x="1923.2" y="564.7" width="64" height="318.6" fill="url(#mg)"/>
<g stroke="#fff" stroke-width="1.6"><path d="M1923.2 574.5h12.8M1974.4 574.5h12.8M1923.2 677.2h12.8M1974.4 677.2h12.8M1923.2 780.6h12.8M1974.4 780.6h12.8M1923.2 882.6h12.8M1974.4 882.6h12.8"/></g>
</svg>
</body></html>
